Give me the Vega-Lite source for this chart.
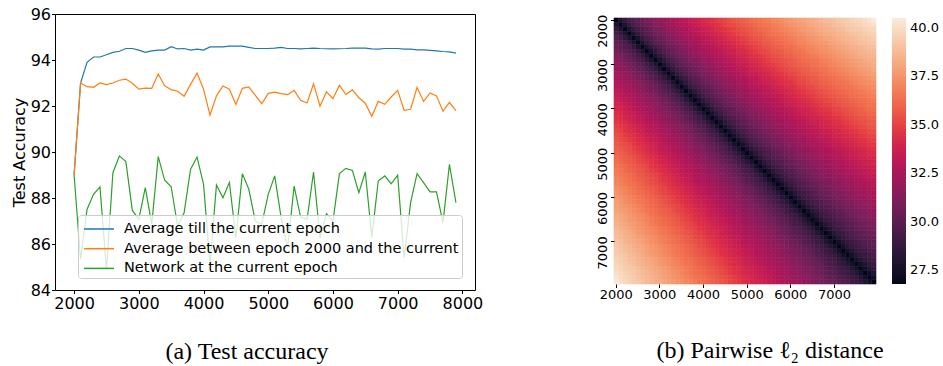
{
  "$schema": "https://vega.github.io/schema/vega-lite/v6.json",
  "background": "white",
  "padding": {"left": 10, "top": 5, "right": 0, "bottom": 0},
  "bounds": "flush",
  "spacing": 139,
  "config": {
    "font": "DejaVu Sans",
    "axis": {"domain": false, "grid": false, "tickColor": "#000", "labelColor": "#000", "titleColor": "#000", "titleFontWeight": "normal"},
    "legend": {"labelColor": "#000"}
  },
  "hconcat": [
    {
      "width": 420,
      "height": 276,
      "view": {"stroke": "#000", "strokeWidth": 1},
      "title": {"text": "(a) Test accuracy", "orient": "bottom", "anchor": "middle", "frame": "group", "font": "Liberation Serif", "fontSize": 24, "fontWeight": "normal", "color": "#000", "offset": 28, "dx": -18},
      "data": {
        "values": "e,s,v\n2000,A,89\n2100,A,93\n2200,A,93.9\n2300,A,94.13\n2400,A,94.13\n2500,A,94.23\n2600,A,94.33\n2700,A,94.38\n2800,A,94.5\n2900,A,94.5\n3000,A,94.43\n3100,A,94.33\n3200,A,94.4\n3300,A,94.43\n3400,A,94.43\n3500,A,94.58\n3600,A,94.48\n3700,A,94.5\n3800,A,94.43\n3900,A,94.47\n4000,A,94.43\n4100,A,94.57\n4200,A,94.57\n4300,A,94.57\n4400,A,94.6\n4500,A,94.6\n4600,A,94.6\n4700,A,94.55\n4800,A,94.5\n4900,A,94.5\n5000,A,94.5\n5100,A,94.52\n5200,A,94.55\n5300,A,94.5\n5400,A,94.5\n5500,A,94.48\n5600,A,94.5\n5700,A,94.52\n5800,A,94.5\n5900,A,94.49\n6000,A,94.48\n6100,A,94.49\n6200,A,94.5\n6300,A,94.52\n6400,A,94.52\n6500,A,94.52\n6600,A,94.48\n6700,A,94.47\n6800,A,94.5\n6900,A,94.5\n7000,A,94.5\n7100,A,94.47\n7200,A,94.47\n7300,A,94.44\n7400,A,94.44\n7500,A,94.42\n7600,A,94.4\n7700,A,94.37\n7800,A,94.35\n7900,A,94.3\n2000,B,89\n2100,B,93\n2200,B,92.84\n2300,B,92.81\n2400,B,93\n2500,B,92.93\n2600,B,93\n2700,B,93.12\n2800,B,93.17\n2900,B,92.99\n3000,B,92.73\n3100,B,92.78\n3200,B,92.77\n3300,B,93.39\n3400,B,92.88\n3500,B,92.71\n3600,B,92.64\n3700,B,92.42\n3800,B,92.94\n3900,B,93.43\n4000,B,92.73\n4100,B,91.6\n4200,B,92.44\n4300,B,92.87\n4400,B,92.73\n4500,B,92.07\n4600,B,92.77\n4700,B,92.83\n4800,B,92.46\n4900,B,92.1\n5000,B,92.55\n5100,B,92.6\n5200,B,92.54\n5300,B,92.5\n5400,B,92.68\n5500,B,92.25\n5600,B,92.13\n5700,B,92.97\n5800,B,91.99\n5900,B,92.62\n6000,B,92.32\n6100,B,92.9\n6200,B,92.5\n6300,B,92.7\n6400,B,92.36\n6500,B,92.12\n6600,B,91.55\n6700,B,92.2\n6800,B,92.07\n6900,B,92.39\n7000,B,92.68\n7100,B,91.81\n7200,B,91.86\n7300,B,92.81\n7400,B,92.2\n7500,B,92.57\n7600,B,92.44\n7700,B,91.77\n7800,B,92.16\n7900,B,91.8\n2000,C,89\n2100,C,85.33\n2200,C,87.5\n2300,C,88.16\n2400,C,88.48\n2500,C,84.9\n2600,C,89.1\n2700,C,89.83\n2800,C,89.58\n2900,C,87.46\n3000,C,87.07\n3100,C,88.45\n3200,C,86.86\n3300,C,89.8\n3400,C,88.77\n3500,C,88.49\n3600,C,86.78\n3700,C,87.36\n3800,C,89.25\n3900,C,89.78\n4000,C,88.6\n4100,C,85.12\n4200,C,88.57\n4300,C,88.01\n4400,C,88.67\n4500,C,86.27\n4600,C,89.06\n4700,C,88.38\n4800,C,87\n4900,C,86.86\n5000,C,88.16\n5100,C,88.96\n5200,C,87.14\n5300,C,85.84\n5400,C,88.52\n5500,C,87.17\n5600,C,87.07\n5700,C,89.13\n5800,C,86.27\n5900,C,87.32\n6000,C,87\n6100,C,89.06\n6200,C,89.29\n6300,C,89.2\n6400,C,88.23\n6500,C,89.13\n6600,C,86.3\n6700,C,88.74\n6800,C,88.96\n6900,C,88.62\n7000,C,88.99\n7100,C,85.4\n7200,C,87.8\n7300,C,89.06\n7400,C,88.67\n7500,C,88.27\n7600,C,88.27\n7700,C,86.93\n7800,C,89.46\n7900,C,87.8",
        "format": {"type": "csv", "parse": {"e": "number", "v": "number"}}
      },
      "mark": {"type": "line", "strokeWidth": 1.2, "clip": true},
      "encoding": {
        "x": {"field": "e", "type": "quantitative", "scale": {"domain": [1705, 8195], "nice": false, "zero": false},
              "axis": {"values": [2000, 3000, 4000, 5000, 6000, 7000, 8000], "format": "d", "title": null, "labelFontSize": 16, "tickSize": 3.5, "labelPadding": 2, "labelFlush": false}},
        "y": {"field": "v", "type": "quantitative", "scale": {"domain": [84, 96], "nice": false, "zero": false},
              "axis": {"values": [84, 86, 88, 90, 92, 94, 96], "title": "Test Accuracy", "titleFontSize": 16, "titlePadding": 3, "labelFontSize": 16, "tickSize": 3.5, "labelPadding": 1}},
        "color": {"field": "s", "type": "nominal",
                  "scale": {"domain": ["A", "B", "C"], "range": ["#1f77b4", "#ff7f0e", "#2ca02c"]},
                  "legend": {"orient": "none", "legendX": 23, "legendY": 201, "title": null, "fillColor": "rgba(255,255,255,0.8)", "strokeColor": "#cccccc", "cornerRadius": 3, "padding": 3,
                             "symbolType": "M-1.5,0H1.5", "symbolSize": 400, "symbolStrokeWidth": 1.5, "symbolOffset": 7, "labelFontSize": 14.5, "labelOffset": 14, "rowPadding": 1.7, "labelLimit": 500, "zindex": 1,
                             "labelExpr": "datum.value == 'A' ? 'Average till the current epoch' : datum.value == 'B' ? 'Average between epoch 2000 and the current' : 'Network at the current epoch'"}}
      }
    },
    {
      "width": 262,
      "height": 270,
      "view": {"stroke": null},
      "title": {"text": "(b) Pairwise ℓ₂ distance", "orient": "bottom", "anchor": "middle", "frame": "group", "font": "Liberation Serif", "fontSize": 24, "fontWeight": "normal", "color": "#000", "offset": 37, "dx": 25},
      "data": {
        "values": "x,y,d\n2000,2000,26.8\n2100,2100,26.8\n2200,2200,26.8\n2300,2300,26.8\n2400,2400,26.8\n2500,2500,26.8\n2600,2600,26.8\n2700,2700,26.8\n2800,2800,26.8\n2900,2900,26.8\n3000,3000,26.8\n3100,3100,26.8\n3200,3200,26.8\n3300,3300,26.8\n3400,3400,26.8\n3500,3500,26.8\n3600,3600,26.8\n3700,3700,26.8\n3800,3800,26.8\n3900,3900,26.8\n4000,4000,26.8\n4100,4100,26.8\n4200,4200,26.8\n4300,4300,26.8\n4400,4400,26.8\n4500,4500,26.8\n4600,4600,26.8\n4700,4700,26.8\n4800,4800,26.8\n4900,4900,26.8\n5000,5000,26.8\n5100,5100,26.8\n5200,5200,26.8\n5300,5300,26.8\n5400,5400,26.8\n5500,5500,26.8\n5600,5600,26.8\n5700,5700,26.8\n5800,5800,26.8\n5900,5900,26.8\n6000,6000,26.8\n6100,6100,26.8\n6200,6200,26.8\n6300,6300,26.8\n6400,6400,26.8\n6500,6500,26.8\n6600,6600,26.8\n6700,6700,26.8\n6800,6800,26.8\n6900,6900,26.8\n7000,7000,26.8\n7100,7100,26.8\n7200,7200,26.8\n7300,7300,26.8\n7400,7400,26.8\n7500,7500,26.8\n7600,7600,26.8\n7700,7700,26.8\n7800,7800,26.8\n7900,7900,26.8\n2000,2100,27.8\n2100,2000,27.8\n2100,2200,27.8\n2200,2100,27.8\n2200,2300,27.8\n2300,2200,27.8\n2300,2400,27.7\n2400,2300,27.7\n2400,2500,27.7\n2500,2400,27.7\n2500,2600,27.7\n2600,2500,27.7\n2600,2700,27.7\n2700,2600,27.7\n2700,2800,27.7\n2800,2700,27.7\n2800,2900,27.7\n2900,2800,27.7\n2900,3000,27.7\n3000,2900,27.7\n3000,3100,27.7\n3100,3000,27.7\n3100,3200,27.7\n3200,3100,27.7\n3200,3300,27.7\n3300,3200,27.7\n3300,3400,27.7\n3400,3300,27.7\n3400,3500,27.7\n3500,3400,27.7\n3500,3600,27.7\n3600,3500,27.7\n3600,3700,27.7\n3700,3600,27.7\n3700,3800,27.6\n3800,3700,27.6\n3800,3900,27.6\n3900,3800,27.6\n3900,4000,27.6\n4000,3900,27.6\n4000,4100,27.6\n4100,4000,27.6\n4100,4200,27.6\n4200,4100,27.6\n4200,4300,27.6\n4300,4200,27.6\n4300,4400,27.6\n4400,4300,27.6\n4400,4500,27.6\n4500,4400,27.6\n4500,4600,27.6\n4600,4500,27.6\n4600,4700,27.6\n4700,4600,27.6\n4700,4800,27.6\n4800,4700,27.6\n4800,4900,27.6\n4900,4800,27.6\n4900,5000,27.6\n5000,4900,27.6\n5000,5100,27.5\n5100,5000,27.5\n5100,5200,27.5\n5200,5100,27.5\n5200,5300,27.5\n5300,5200,27.5\n5300,5400,27.5\n5400,5300,27.5\n5400,5500,27.5\n5500,5400,27.5\n5500,5600,27.5\n5600,5500,27.5\n5600,5700,27.5\n5700,5600,27.5\n5700,5800,27.5\n5800,5700,27.5\n5800,5900,27.5\n5900,5800,27.5\n5900,6000,27.5\n6000,5900,27.5\n6000,6100,27.5\n6100,6000,27.5\n6100,6200,27.5\n6200,6100,27.5\n6200,6300,27.5\n6300,6200,27.5\n6300,6400,27.4\n6400,6300,27.4\n6400,6500,27.4\n6500,6400,27.4\n6500,6600,27.4\n6600,6500,27.4\n6600,6700,27.4\n6700,6600,27.4\n6700,6800,27.4\n6800,6700,27.4\n6800,6900,27.4\n6900,6800,27.4\n6900,7000,27.4\n7000,6900,27.4\n7000,7100,27.4\n7100,7000,27.4\n7100,7200,27.4\n7200,7100,27.4\n7200,7300,27.4\n7300,7200,27.4\n7300,7400,27.4\n7400,7300,27.4\n7400,7500,27.4\n7500,7400,27.4\n7500,7600,27.4\n7600,7500,27.4\n7600,7700,27.4\n7700,7600,27.4\n7700,7800,27.3\n7800,7700,27.3\n7800,7900,27.3\n7900,7800,27.3\n2000,2200,28.6\n2200,2000,28.6\n2100,2300,28.6\n2300,2100,28.6\n2200,2400,28.6\n2400,2200,28.6\n2300,2500,28.6\n2500,2300,28.6\n2400,2600,28.6\n2600,2400,28.6\n2500,2700,28.6\n2700,2500,28.6\n2600,2800,28.6\n2800,2600,28.6\n2700,2900,28.5\n2900,2700,28.5\n2800,3000,28.5\n3000,2800,28.5\n2900,3100,28.5\n3100,2900,28.5\n3000,3200,28.5\n3200,3000,28.5\n3100,3300,28.5\n3300,3100,28.5\n3200,3400,28.5\n3400,3200,28.5\n3300,3500,28.5\n3500,3300,28.5\n3400,3600,28.5\n3600,3400,28.5\n3500,3700,28.5\n3700,3500,28.5\n3600,3800,28.4\n3800,3600,28.4\n3700,3900,28.4\n3900,3700,28.4\n3800,4000,28.4\n4000,3800,28.4\n3900,4100,28.4\n4100,3900,28.4\n4000,4200,28.4\n4200,4000,28.4\n4100,4300,28.4\n4300,4100,28.4\n4200,4400,28.4\n4400,4200,28.4\n4300,4500,28.4\n4500,4300,28.4\n4400,4600,28.4\n4600,4400,28.4\n4500,4700,28.3\n4700,4500,28.3\n4600,4800,28.3\n4800,4600,28.3\n4700,4900,28.3\n4900,4700,28.3\n4800,5000,28.3\n5000,4800,28.3\n4900,5100,28.3\n5100,4900,28.3\n5000,5200,28.3\n5200,5000,28.3\n5100,5300,28.3\n5300,5100,28.3\n5200,5400,28.3\n5400,5200,28.3\n5300,5500,28.3\n5500,5300,28.3\n5400,5600,28.2\n5600,5400,28.2\n5500,5700,28.2\n5700,5500,28.2\n5600,5800,28.2\n5800,5600,28.2\n5700,5900,28.2\n5900,5700,28.2\n5800,6000,28.2\n6000,5800,28.2\n5900,6100,28.2\n6100,5900,28.2\n6000,6200,28.2\n6200,6000,28.2\n6100,6300,28.2\n6300,6100,28.2\n6200,6400,28.2\n6400,6200,28.2\n6300,6500,28.1\n6500,6300,28.1\n6400,6600,28.1\n6600,6400,28.1\n6500,6700,28.1\n6700,6500,28.1\n6600,6800,28.1\n6800,6600,28.1\n6700,6900,28.1\n6900,6700,28.1\n6800,7000,28.1\n7000,6800,28.1\n6900,7100,28.1\n7100,6900,28.1\n7000,7200,28.1\n7200,7000,28.1\n7100,7300,28.1\n7300,7100,28.1\n7200,7400,28\n7400,7200,28\n7300,7500,28\n7500,7300,28\n7400,7600,28\n7600,7400,28\n7500,7700,28\n7700,7500,28\n7600,7800,28\n7800,7600,28\n7700,7900,28\n7900,7700,28\n2000,2300,29.3\n2300,2000,29.3\n2100,2400,29.3\n2400,2100,29.3\n2200,2500,29.3\n2500,2200,29.3\n2300,2600,29.3\n2600,2300,29.3\n2400,2700,29.3\n2700,2400,29.3\n2500,2800,29.3\n2800,2500,29.3\n2600,2900,29.2\n2900,2600,29.2\n2700,3000,29.2\n3000,2700,29.2\n2800,3100,29.2\n3100,2800,29.2\n2900,3200,29.2\n3200,2900,29.2\n3000,3300,29.2\n3300,3000,29.2\n3100,3400,29.2\n3400,3100,29.2\n3200,3500,29.2\n3500,3200,29.2\n3300,3600,29.1\n3600,3300,29.1\n3400,3700,29.1\n3700,3400,29.1\n3500,3800,29.1\n3800,3500,29.1\n3600,3900,29.1\n3900,3600,29.1\n3700,4000,29.1\n4000,3700,29.1\n3800,4100,29.1\n4100,3800,29.1\n3900,4200,29.1\n4200,3900,29.1\n4000,4300,29.1\n4300,4000,29.1\n4100,4400,29\n4400,4100,29\n4200,4500,29\n4500,4200,29\n4300,4600,29\n4600,4300,29\n4400,4700,29\n4700,4400,29\n4500,4800,29\n4800,4500,29\n4600,4900,29\n4900,4600,29\n4700,5000,29\n5000,4700,29\n4800,5100,28.9\n5100,4800,28.9\n4900,5200,28.9\n5200,4900,28.9\n5000,5300,28.9\n5300,5000,28.9\n5100,5400,28.9\n5400,5100,28.9\n5200,5500,28.9\n5500,5200,28.9\n5300,5600,28.9\n5600,5300,28.9\n5400,5700,28.9\n5700,5400,28.9\n5500,5800,28.8\n5800,5500,28.8\n5600,5900,28.8\n5900,5600,28.8\n5700,6000,28.8\n6000,5700,28.8\n5800,6100,28.8\n6100,5800,28.8\n5900,6200,28.8\n6200,5900,28.8\n6000,6300,28.8\n6300,6000,28.8\n6100,6400,28.8\n6400,6100,28.8\n6200,6500,28.7\n6500,6200,28.7\n6300,6600,28.7\n6600,6300,28.7\n6400,6700,28.7\n6700,6400,28.7\n6500,6800,28.7\n6800,6500,28.7\n6600,6900,28.7\n6900,6600,28.7\n6700,7000,28.7\n7000,6700,28.7\n6800,7100,28.7\n7100,6800,28.7\n6900,7200,28.7\n7200,6900,28.7\n7000,7300,28.6\n7300,7000,28.6\n7100,7400,28.6\n7400,7100,28.6\n7200,7500,28.6\n7500,7200,28.6\n7300,7600,28.6\n7600,7300,28.6\n7400,7700,28.6\n7700,7400,28.6\n7500,7800,28.6\n7800,7500,28.6\n7600,7900,28.6\n7900,7600,28.6\n2000,2400,29.8\n2400,2000,29.8\n2100,2500,29.8\n2500,2100,29.8\n2200,2600,29.7\n2600,2200,29.7\n2300,2700,29.7\n2700,2300,29.7\n2400,2800,29.7\n2800,2400,29.7\n2500,2900,29.7\n2900,2500,29.7\n2600,3000,29.7\n3000,2600,29.7\n2700,3100,29.7\n3100,2700,29.7\n2800,3200,29.6\n3200,2800,29.6\n2900,3300,29.6\n3300,2900,29.6\n3000,3400,29.6\n3400,3000,29.6\n3100,3500,29.6\n3500,3100,29.6\n3200,3600,29.6\n3600,3200,29.6\n3300,3700,29.6\n3700,3300,29.6\n3400,3800,29.6\n3800,3400,29.6\n3500,3900,29.5\n3900,3500,29.5\n3600,4000,29.5\n4000,3600,29.5\n3700,4100,29.5\n4100,3700,29.5\n3800,4200,29.5\n4200,3800,29.5\n3900,4300,29.5\n4300,3900,29.5\n4000,4400,29.5\n4400,4000,29.5\n4100,4500,29.4\n4500,4100,29.4\n4200,4600,29.4\n4600,4200,29.4\n4300,4700,29.4\n4700,4300,29.4\n4400,4800,29.4\n4800,4400,29.4\n4500,4900,29.4\n4900,4500,29.4\n4600,5000,29.4\n5000,4600,29.4\n4700,5100,29.3\n5100,4700,29.3\n4800,5200,29.3\n5200,4800,29.3\n4900,5300,29.3\n5300,4900,29.3\n5000,5400,29.3\n5400,5000,29.3\n5100,5500,29.3\n5500,5100,29.3\n5200,5600,29.3\n5600,5200,29.3\n5300,5700,29.2\n5700,5300,29.2\n5400,5800,29.2\n5800,5400,29.2\n5500,5900,29.2\n5900,5500,29.2\n5600,6000,29.2\n6000,5600,29.2\n5700,6100,29.2\n6100,5700,29.2\n5800,6200,29.2\n6200,5800,29.2\n5900,6300,29.1\n6300,5900,29.1\n6000,6400,29.1\n6400,6000,29.1\n6100,6500,29.1\n6500,6100,29.1\n6200,6600,29.1\n6600,6200,29.1\n6300,6700,29.1\n6700,6300,29.1\n6400,6800,29.1\n6800,6400,29.1\n6500,6900,29\n6900,6500,29\n6600,7000,29\n7000,6600,29\n6700,7100,29\n7100,6700,29\n6800,7200,29\n7200,6800,29\n6900,7300,29\n7300,6900,29\n7000,7400,29\n7400,7000,29\n7100,7500,28.9\n7500,7100,28.9\n7200,7600,28.9\n7600,7200,28.9\n7300,7700,28.9\n7700,7300,28.9\n7400,7800,28.9\n7800,7400,28.9\n7500,7900,28.9\n7900,7500,28.9\n2000,2500,30.2\n2500,2000,30.2\n2100,2600,30.2\n2600,2100,30.2\n2200,2700,30.1\n2700,2200,30.1\n2300,2800,30.1\n2800,2300,30.1\n2400,2900,30.1\n2900,2400,30.1\n2500,3000,30.1\n3000,2500,30.1\n2600,3100,30.1\n3100,2600,30.1\n2700,3200,30\n3200,2700,30\n2800,3300,30\n3300,2800,30\n2900,3400,30\n3400,2900,30\n3000,3500,30\n3500,3000,30\n3100,3600,30\n3600,3100,30\n3200,3700,29.9\n3700,3200,29.9\n3300,3800,29.9\n3800,3300,29.9\n3400,3900,29.9\n3900,3400,29.9\n3500,4000,29.9\n4000,3500,29.9\n3600,4100,29.9\n4100,3600,29.9\n3700,4200,29.9\n4200,3700,29.9\n3800,4300,29.8\n4300,3800,29.8\n3900,4400,29.8\n4400,3900,29.8\n4000,4500,29.8\n4500,4000,29.8\n4100,4600,29.8\n4600,4100,29.8\n4200,4700,29.8\n4700,4200,29.8\n4300,4800,29.7\n4800,4300,29.7\n4400,4900,29.7\n4900,4400,29.7\n4500,5000,29.7\n5000,4500,29.7\n4600,5100,29.7\n5100,4600,29.7\n4700,5200,29.7\n5200,4700,29.7\n4800,5300,29.7\n5300,4800,29.7\n4900,5400,29.6\n5400,4900,29.6\n5000,5500,29.6\n5500,5000,29.6\n5100,5600,29.6\n5600,5100,29.6\n5200,5700,29.6\n5700,5200,29.6\n5300,5800,29.6\n5800,5300,29.6\n5400,5900,29.5\n5900,5400,29.5\n5500,6000,29.5\n6000,5500,29.5\n5600,6100,29.5\n6100,5600,29.5\n5700,6200,29.5\n6200,5700,29.5\n5800,6300,29.5\n6300,5800,29.5\n5900,6400,29.4\n6400,5900,29.4\n6000,6500,29.4\n6500,6000,29.4\n6100,6600,29.4\n6600,6100,29.4\n6200,6700,29.4\n6700,6200,29.4\n6300,6800,29.4\n6800,6300,29.4\n6400,6900,29.4\n6900,6400,29.4\n6500,7000,29.3\n7000,6500,29.3\n6600,7100,29.3\n7100,6600,29.3\n6700,7200,29.3\n7200,6700,29.3\n6800,7300,29.3\n7300,6800,29.3\n6900,7400,29.3\n7400,6900,29.3\n7000,7500,29.2\n7500,7000,29.2\n7100,7600,29.2\n7600,7100,29.2\n7200,7700,29.2\n7700,7200,29.2\n7300,7800,29.2\n7800,7300,29.2\n7400,7900,29.2\n7900,7400,29.2\n2000,2600,30.5\n2600,2000,30.5\n2100,2700,30.5\n2700,2100,30.5\n2200,2800,30.5\n2800,2200,30.5\n2300,2900,30.5\n2900,2300,30.5\n2400,3000,30.5\n3000,2400,30.5\n2500,3100,30.4\n3100,2500,30.4\n2600,3200,30.4\n3200,2600,30.4\n2700,3300,30.4\n3300,2700,30.4\n2800,3400,30.4\n3400,2800,30.4\n2900,3500,30.4\n3500,2900,30.4\n3000,3600,30.3\n3600,3000,30.3\n3100,3700,30.3\n3700,3100,30.3\n3200,3800,30.3\n3800,3200,30.3\n3300,3900,30.3\n3900,3300,30.3\n3400,4000,30.3\n4000,3400,30.3\n3500,4100,30.2\n4100,3500,30.2\n3600,4200,30.2\n4200,3600,30.2\n3700,4300,30.2\n4300,3700,30.2\n3800,4400,30.2\n4400,3800,30.2\n3900,4500,30.2\n4500,3900,30.2\n4000,4600,30.1\n4600,4000,30.1\n4100,4700,30.1\n4700,4100,30.1\n4200,4800,30.1\n4800,4200,30.1\n4300,4900,30.1\n4900,4300,30.1\n4400,5000,30\n5000,4400,30\n4500,5100,30\n5100,4500,30\n4600,5200,30\n5200,4600,30\n4700,5300,30\n5300,4700,30\n4800,5400,30\n5400,4800,30\n4900,5500,29.9\n5500,4900,29.9\n5000,5600,29.9\n5600,5000,29.9\n5100,5700,29.9\n5700,5100,29.9\n5200,5800,29.9\n5800,5200,29.9\n5300,5900,29.9\n5900,5300,29.9\n5400,6000,29.8\n6000,5400,29.8\n5500,6100,29.8\n6100,5500,29.8\n5600,6200,29.8\n6200,5600,29.8\n5700,6300,29.8\n6300,5700,29.8\n5800,6400,29.8\n6400,5800,29.8\n5900,6500,29.7\n6500,5900,29.7\n6000,6600,29.7\n6600,6000,29.7\n6100,6700,29.7\n6700,6100,29.7\n6200,6800,29.7\n6800,6200,29.7\n6300,6900,29.7\n6900,6300,29.7\n6400,7000,29.6\n7000,6400,29.6\n6500,7100,29.6\n7100,6500,29.6\n6600,7200,29.6\n7200,6600,29.6\n6700,7300,29.6\n7300,6700,29.6\n6800,7400,29.6\n7400,6800,29.6\n6900,7500,29.5\n7500,6900,29.5\n7000,7600,29.5\n7600,7000,29.5\n7100,7700,29.5\n7700,7100,29.5\n7200,7800,29.5\n7800,7200,29.5\n7300,7900,29.5\n7900,7300,29.5\n2000,2700,30.9\n2700,2000,30.9\n2100,2800,30.8\n2800,2100,30.8\n2200,2900,30.8\n2900,2200,30.8\n2300,3000,30.8\n3000,2300,30.8\n2400,3100,30.8\n3100,2400,30.8\n2500,3200,30.8\n3200,2500,30.8\n2600,3300,30.7\n3300,2600,30.7\n2700,3400,30.7\n3400,2700,30.7\n2800,3500,30.7\n3500,2800,30.7\n2900,3600,30.7\n3600,2900,30.7\n3000,3700,30.6\n3700,3000,30.6\n3100,3800,30.6\n3800,3100,30.6\n3200,3900,30.6\n3900,3200,30.6\n3300,4000,30.6\n4000,3300,30.6\n3400,4100,30.6\n4100,3400,30.6\n3500,4200,30.5\n4200,3500,30.5\n3600,4300,30.5\n4300,3600,30.5\n3700,4400,30.5\n4400,3700,30.5\n3800,4500,30.5\n4500,3800,30.5\n3900,4600,30.4\n4600,3900,30.4\n4000,4700,30.4\n4700,4000,30.4\n4100,4800,30.4\n4800,4100,30.4\n4200,4900,30.4\n4900,4200,30.4\n4300,5000,30.4\n5000,4300,30.4\n4400,5100,30.3\n5100,4400,30.3\n4500,5200,30.3\n5200,4500,30.3\n4600,5300,30.3\n5300,4600,30.3\n4700,5400,30.3\n5400,4700,30.3\n4800,5500,30.2\n5500,4800,30.2\n4900,5600,30.2\n5600,4900,30.2\n5000,5700,30.2\n5700,5000,30.2\n5100,5800,30.2\n5800,5100,30.2\n5200,5900,30.2\n5900,5200,30.2\n5300,6000,30.1\n6000,5300,30.1\n5400,6100,30.1\n6100,5400,30.1\n5500,6200,30.1\n6200,5500,30.1\n5600,6300,30.1\n6300,5600,30.1\n5700,6400,30\n6400,5700,30\n5800,6500,30\n6500,5800,30\n5900,6600,30\n6600,5900,30\n6000,6700,30\n6700,6000,30\n6100,6800,30\n6800,6100,30\n6200,6900,29.9\n6900,6200,29.9\n6300,7000,29.9\n7000,6300,29.9\n6400,7100,29.9\n7100,6400,29.9\n6500,7200,29.9\n7200,6500,29.9\n6600,7300,29.8\n7300,6600,29.8\n6700,7400,29.8\n7400,6700,29.8\n6800,7500,29.8\n7500,6800,29.8\n6900,7600,29.8\n7600,6900,29.8\n7000,7700,29.8\n7700,7000,29.8\n7100,7800,29.7\n7800,7100,29.7\n7200,7900,29.7\n7900,7200,29.7\n2000,2800,31.2\n2800,2000,31.2\n2100,2900,31.2\n2900,2100,31.2\n2200,3000,31.1\n3000,2200,31.1\n2300,3100,31.1\n3100,2300,31.1\n2400,3200,31.1\n3200,2400,31.1\n2500,3300,31.1\n3300,2500,31.1\n2600,3400,31\n3400,2600,31\n2700,3500,31\n3500,2700,31\n2800,3600,31\n3600,2800,31\n2900,3700,31\n3700,2900,31\n3000,3800,30.9\n3800,3000,30.9\n3100,3900,30.9\n3900,3100,30.9\n3200,4000,30.9\n4000,3200,30.9\n3300,4100,30.9\n4100,3300,30.9\n3400,4200,30.9\n4200,3400,30.9\n3500,4300,30.8\n4300,3500,30.8\n3600,4400,30.8\n4400,3600,30.8\n3700,4500,30.8\n4500,3700,30.8\n3800,4600,30.8\n4600,3800,30.8\n3900,4700,30.7\n4700,3900,30.7\n4000,4800,30.7\n4800,4000,30.7\n4100,4900,30.7\n4900,4100,30.7\n4200,5000,30.7\n5000,4200,30.7\n4300,5100,30.6\n5100,4300,30.6\n4400,5200,30.6\n5200,4400,30.6\n4500,5300,30.6\n5300,4500,30.6\n4600,5400,30.6\n5400,4600,30.6\n4700,5500,30.5\n5500,4700,30.5\n4800,5600,30.5\n5600,4800,30.5\n4900,5700,30.5\n5700,4900,30.5\n5000,5800,30.5\n5800,5000,30.5\n5100,5900,30.4\n5900,5100,30.4\n5200,6000,30.4\n6000,5200,30.4\n5300,6100,30.4\n6100,5300,30.4\n5400,6200,30.4\n6200,5400,30.4\n5500,6300,30.3\n6300,5500,30.3\n5600,6400,30.3\n6400,5600,30.3\n5700,6500,30.3\n6500,5700,30.3\n5800,6600,30.3\n6600,5800,30.3\n5900,6700,30.3\n6700,5900,30.3\n6000,6800,30.2\n6800,6000,30.2\n6100,6900,30.2\n6900,6100,30.2\n6200,7000,30.2\n7000,6200,30.2\n6300,7100,30.2\n7100,6300,30.2\n6400,7200,30.1\n7200,6400,30.1\n6500,7300,30.1\n7300,6500,30.1\n6600,7400,30.1\n7400,6600,30.1\n6700,7500,30.1\n7500,6700,30.1\n6800,7600,30\n7600,6800,30\n6900,7700,30\n7700,6900,30\n7000,7800,30\n7800,7000,30\n7100,7900,30\n7900,7100,30\n2000,2900,31.5\n2900,2000,31.5\n2100,3000,31.5\n3000,2100,31.5\n2200,3100,31.4\n3100,2200,31.4\n2300,3200,31.4\n3200,2300,31.4\n2400,3300,31.4\n3300,2400,31.4\n2500,3400,31.4\n3400,2500,31.4\n2600,3500,31.3\n3500,2600,31.3\n2700,3600,31.3\n3600,2700,31.3\n2800,3700,31.3\n3700,2800,31.3\n2900,3800,31.3\n3800,2900,31.3\n3000,3900,31.2\n3900,3000,31.2\n3100,4000,31.2\n4000,3100,31.2\n3200,4100,31.2\n4100,3200,31.2\n3300,4200,31.2\n4200,3300,31.2\n3400,4300,31.1\n4300,3400,31.1\n3500,4400,31.1\n4400,3500,31.1\n3600,4500,31.1\n4500,3600,31.1\n3700,4600,31.1\n4600,3700,31.1\n3800,4700,31\n4700,3800,31\n3900,4800,31\n4800,3900,31\n4000,4900,31\n4900,4000,31\n4100,5000,31\n5000,4100,31\n4200,5100,30.9\n5100,4200,30.9\n4300,5200,30.9\n5200,4300,30.9\n4400,5300,30.9\n5300,4400,30.9\n4500,5400,30.8\n5400,4500,30.8\n4600,5500,30.8\n5500,4600,30.8\n4700,5600,30.8\n5600,4700,30.8\n4800,5700,30.8\n5700,4800,30.8\n4900,5800,30.7\n5800,4900,30.7\n5000,5900,30.7\n5900,5000,30.7\n5100,6000,30.7\n6000,5100,30.7\n5200,6100,30.7\n6100,5200,30.7\n5300,6200,30.6\n6200,5300,30.6\n5400,6300,30.6\n6300,5400,30.6\n5500,6400,30.6\n6400,5500,30.6\n5600,6500,30.6\n6500,5600,30.6\n5700,6600,30.5\n6600,5700,30.5\n5800,6700,30.5\n6700,5800,30.5\n5900,6800,30.5\n6800,5900,30.5\n6000,6900,30.5\n6900,6000,30.5\n6100,7000,30.4\n7000,6100,30.4\n6200,7100,30.4\n7100,6200,30.4\n6300,7200,30.4\n7200,6300,30.4\n6400,7300,30.4\n7300,6400,30.4\n6500,7400,30.3\n7400,6500,30.3\n6600,7500,30.3\n7500,6600,30.3\n6700,7600,30.3\n7600,6700,30.3\n6800,7700,30.3\n7700,6800,30.3\n6900,7800,30.2\n7800,6900,30.2\n7000,7900,30.2\n7900,7000,30.2\n2000,3000,31.8\n3000,2000,31.8\n2100,3100,31.7\n3100,2100,31.7\n2200,3200,31.7\n3200,2200,31.7\n2300,3300,31.7\n3300,2300,31.7\n2400,3400,31.7\n3400,2400,31.7\n2500,3500,31.6\n3500,2500,31.6\n2600,3600,31.6\n3600,2600,31.6\n2700,3700,31.6\n3700,2700,31.6\n2800,3800,31.6\n3800,2800,31.6\n2900,3900,31.5\n3900,2900,31.5\n3000,4000,31.5\n4000,3000,31.5\n3100,4100,31.5\n4100,3100,31.5\n3200,4200,31.4\n4200,3200,31.4\n3300,4300,31.4\n4300,3300,31.4\n3400,4400,31.4\n4400,3400,31.4\n3500,4500,31.4\n4500,3500,31.4\n3600,4600,31.3\n4600,3600,31.3\n3700,4700,31.3\n4700,3700,31.3\n3800,4800,31.3\n4800,3800,31.3\n3900,4900,31.3\n4900,3900,31.3\n4000,5000,31.2\n5000,4000,31.2\n4100,5100,31.2\n5100,4100,31.2\n4200,5200,31.2\n5200,4200,31.2\n4300,5300,31.1\n5300,4300,31.1\n4400,5400,31.1\n5400,4400,31.1\n4500,5500,31.1\n5500,4500,31.1\n4600,5600,31.1\n5600,4600,31.1\n4700,5700,31\n5700,4700,31\n4800,5800,31\n5800,4800,31\n4900,5900,31\n5900,4900,31\n5000,6000,31\n6000,5000,31\n5100,6100,30.9\n6100,5100,30.9\n5200,6200,30.9\n6200,5200,30.9\n5300,6300,30.9\n6300,5300,30.9\n5400,6400,30.8\n6400,5400,30.8\n5500,6500,30.8\n6500,5500,30.8\n5600,6600,30.8\n6600,5600,30.8\n5700,6700,30.8\n6700,5700,30.8\n5800,6800,30.7\n6800,5800,30.7\n5900,6900,30.7\n6900,5900,30.7\n6000,7000,30.7\n7000,6000,30.7\n6100,7100,30.7\n7100,6100,30.7\n6200,7200,30.6\n7200,6200,30.6\n6300,7300,30.6\n7300,6300,30.6\n6400,7400,30.6\n7400,6400,30.6\n6500,7500,30.5\n7500,6500,30.5\n6600,7600,30.5\n7600,6600,30.5\n6700,7700,30.5\n7700,6700,30.5\n6800,7800,30.5\n7800,6800,30.5\n6900,7900,30.4\n7900,6900,30.4\n2000,3100,32\n3100,2000,32\n2100,3200,32\n3200,2100,32\n2200,3300,32\n3300,2200,32\n2300,3400,32\n3400,2300,32\n2400,3500,31.9\n3500,2400,31.9\n2500,3600,31.9\n3600,2500,31.9\n2600,3700,31.9\n3700,2600,31.9\n2700,3800,31.8\n3800,2700,31.8\n2800,3900,31.8\n3900,2800,31.8\n2900,4000,31.8\n4000,2900,31.8\n3000,4100,31.8\n4100,3000,31.8\n3100,4200,31.7\n4200,3100,31.7\n3200,4300,31.7\n4300,3200,31.7\n3300,4400,31.7\n4400,3300,31.7\n3400,4500,31.6\n4500,3400,31.6\n3500,4600,31.6\n4600,3500,31.6\n3600,4700,31.6\n4700,3600,31.6\n3700,4800,31.6\n4800,3700,31.6\n3800,4900,31.5\n4900,3800,31.5\n3900,5000,31.5\n5000,3900,31.5\n4000,5100,31.5\n5100,4000,31.5\n4100,5200,31.4\n5200,4100,31.4\n4200,5300,31.4\n5300,4200,31.4\n4300,5400,31.4\n5400,4300,31.4\n4400,5500,31.4\n5500,4400,31.4\n4500,5600,31.3\n5600,4500,31.3\n4600,5700,31.3\n5700,4600,31.3\n4700,5800,31.3\n5800,4700,31.3\n4800,5900,31.2\n5900,4800,31.2\n4900,6000,31.2\n6000,4900,31.2\n5000,6100,31.2\n6100,5000,31.2\n5100,6200,31.2\n6200,5100,31.2\n5200,6300,31.1\n6300,5200,31.1\n5300,6400,31.1\n6400,5300,31.1\n5400,6500,31.1\n6500,5400,31.1\n5500,6600,31\n6600,5500,31\n5600,6700,31\n6700,5600,31\n5700,6800,31\n6800,5700,31\n5800,6900,31\n6900,5800,31\n5900,7000,30.9\n7000,5900,30.9\n6000,7100,30.9\n7100,6000,30.9\n6100,7200,30.9\n7200,6100,30.9\n6200,7300,30.8\n7300,6200,30.8\n6300,7400,30.8\n7400,6300,30.8\n6400,7500,30.8\n7500,6400,30.8\n6500,7600,30.8\n7600,6500,30.8\n6600,7700,30.7\n7700,6600,30.7\n6700,7800,30.7\n7800,6700,30.7\n6800,7900,30.7\n7900,6800,30.7\n2000,3200,32.3\n3200,2000,32.3\n2100,3300,32.3\n3300,2100,32.3\n2200,3400,32.2\n3400,2200,32.2\n2300,3500,32.2\n3500,2300,32.2\n2400,3600,32.2\n3600,2400,32.2\n2500,3700,32.2\n3700,2500,32.2\n2600,3800,32.1\n3800,2600,32.1\n2700,3900,32.1\n3900,2700,32.1\n2800,4000,32.1\n4000,2800,32.1\n2900,4100,32\n4100,2900,32\n3000,4200,32\n4200,3000,32\n3100,4300,32\n4300,3100,32\n3200,4400,31.9\n4400,3200,31.9\n3300,4500,31.9\n4500,3300,31.9\n3400,4600,31.9\n4600,3400,31.9\n3500,4700,31.9\n4700,3500,31.9\n3600,4800,31.8\n4800,3600,31.8\n3700,4900,31.8\n4900,3700,31.8\n3800,5000,31.8\n5000,3800,31.8\n3900,5100,31.7\n5100,3900,31.7\n4000,5200,31.7\n5200,4000,31.7\n4100,5300,31.7\n5300,4100,31.7\n4200,5400,31.6\n5400,4200,31.6\n4300,5500,31.6\n5500,4300,31.6\n4400,5600,31.6\n5600,4400,31.6\n4500,5700,31.6\n5700,4500,31.6\n4600,5800,31.5\n5800,4600,31.5\n4700,5900,31.5\n5900,4700,31.5\n4800,6000,31.5\n6000,4800,31.5\n4900,6100,31.4\n6100,4900,31.4\n5000,6200,31.4\n6200,5000,31.4\n5100,6300,31.4\n6300,5100,31.4\n5200,6400,31.3\n6400,5200,31.3\n5300,6500,31.3\n6500,5300,31.3\n5400,6600,31.3\n6600,5400,31.3\n5500,6700,31.3\n6700,5500,31.3\n5600,6800,31.2\n6800,5600,31.2\n5700,6900,31.2\n6900,5700,31.2\n5800,7000,31.2\n7000,5800,31.2\n5900,7100,31.1\n7100,5900,31.1\n6000,7200,31.1\n7200,6000,31.1\n6100,7300,31.1\n7300,6100,31.1\n6200,7400,31\n7400,6200,31\n6300,7500,31\n7500,6300,31\n6400,7600,31\n7600,6400,31\n6500,7700,31\n7700,6500,31\n6600,7800,30.9\n7800,6600,30.9\n6700,7900,30.9\n7900,6700,30.9\n2000,3300,32.6\n3300,2000,32.6\n2100,3400,32.5\n3400,2100,32.5\n2200,3500,32.5\n3500,2200,32.5\n2300,3600,32.5\n3600,2300,32.5\n2400,3700,32.4\n3700,2400,32.4\n2500,3800,32.4\n3800,2500,32.4\n2600,3900,32.4\n3900,2600,32.4\n2700,4000,32.3\n4000,2700,32.3\n2800,4100,32.3\n4100,2800,32.3\n2900,4200,32.3\n4200,2900,32.3\n3000,4300,32.2\n4300,3000,32.2\n3100,4400,32.2\n4400,3100,32.2\n3200,4500,32.2\n4500,3200,32.2\n3300,4600,32.1\n4600,3300,32.1\n3400,4700,32.1\n4700,3400,32.1\n3500,4800,32.1\n4800,3500,32.1\n3600,4900,32.1\n4900,3600,32.1\n3700,5000,32\n5000,3700,32\n3800,5100,32\n5100,3800,32\n3900,5200,32\n5200,3900,32\n4000,5300,31.9\n5300,4000,31.9\n4100,5400,31.9\n5400,4100,31.9\n4200,5500,31.9\n5500,4200,31.9\n4300,5600,31.8\n5600,4300,31.8\n4400,5700,31.8\n5700,4400,31.8\n4500,5800,31.8\n5800,4500,31.8\n4600,5900,31.7\n5900,4600,31.7\n4700,6000,31.7\n6000,4700,31.7\n4800,6100,31.7\n6100,4800,31.7\n4900,6200,31.6\n6200,4900,31.6\n5000,6300,31.6\n6300,5000,31.6\n5100,6400,31.6\n6400,5100,31.6\n5200,6500,31.6\n6500,5200,31.6\n5300,6600,31.5\n6600,5300,31.5\n5400,6700,31.5\n6700,5400,31.5\n5500,6800,31.5\n6800,5500,31.5\n5600,6900,31.4\n6900,5600,31.4\n5700,7000,31.4\n7000,5700,31.4\n5800,7100,31.4\n7100,5800,31.4\n5900,7200,31.3\n7200,5900,31.3\n6000,7300,31.3\n7300,6000,31.3\n6100,7400,31.3\n7400,6100,31.3\n6200,7500,31.2\n7500,6200,31.2\n6300,7600,31.2\n7600,6300,31.2\n6400,7700,31.2\n7700,6400,31.2\n6500,7800,31.1\n7800,6500,31.1\n6600,7900,31.1\n7900,6600,31.1\n2000,3400,32.8\n3400,2000,32.8\n2100,3500,32.8\n3500,2100,32.8\n2200,3600,32.7\n3600,2200,32.7\n2300,3700,32.7\n3700,2300,32.7\n2400,3800,32.7\n3800,2400,32.7\n2500,3900,32.6\n3900,2500,32.6\n2600,4000,32.6\n4000,2600,32.6\n2700,4100,32.6\n4100,2700,32.6\n2800,4200,32.5\n4200,2800,32.5\n2900,4300,32.5\n4300,2900,32.5\n3000,4400,32.5\n4400,3000,32.5\n3100,4500,32.4\n4500,3100,32.4\n3200,4600,32.4\n4600,3200,32.4\n3300,4700,32.4\n4700,3300,32.4\n3400,4800,32.3\n4800,3400,32.3\n3500,4900,32.3\n4900,3500,32.3\n3600,5000,32.3\n5000,3600,32.3\n3700,5100,32.3\n5100,3700,32.3\n3800,5200,32.2\n5200,3800,32.2\n3900,5300,32.2\n5300,3900,32.2\n4000,5400,32.2\n5400,4000,32.2\n4100,5500,32.1\n5500,4100,32.1\n4200,5600,32.1\n5600,4200,32.1\n4300,5700,32.1\n5700,4300,32.1\n4400,5800,32\n5800,4400,32\n4500,5900,32\n5900,4500,32\n4600,6000,32\n6000,4600,32\n4700,6100,31.9\n6100,4700,31.9\n4800,6200,31.9\n6200,4800,31.9\n4900,6300,31.9\n6300,4900,31.9\n5000,6400,31.8\n6400,5000,31.8\n5100,6500,31.8\n6500,5100,31.8\n5200,6600,31.8\n6600,5200,31.8\n5300,6700,31.7\n6700,5300,31.7\n5400,6800,31.7\n6800,5400,31.7\n5500,6900,31.7\n6900,5500,31.7\n5600,7000,31.6\n7000,5600,31.6\n5700,7100,31.6\n7100,5700,31.6\n5800,7200,31.6\n7200,5800,31.6\n5900,7300,31.5\n7300,5900,31.5\n6000,7400,31.5\n7400,6000,31.5\n6100,7500,31.5\n7500,6100,31.5\n6200,7600,31.4\n7600,6200,31.4\n6300,7700,31.4\n7700,6300,31.4\n6400,7800,31.4\n7800,6400,31.4\n6500,7900,31.3\n7900,6500,31.3\n2000,3500,33\n3500,2000,33\n2100,3600,33\n3600,2100,33\n2200,3700,33\n3700,2200,33\n2300,3800,32.9\n3800,2300,32.9\n2400,3900,32.9\n3900,2400,32.9\n2500,4000,32.9\n4000,2500,32.9\n2600,4100,32.8\n4100,2600,32.8\n2700,4200,32.8\n4200,2700,32.8\n2800,4300,32.8\n4300,2800,32.8\n2900,4400,32.7\n4400,2900,32.7\n3000,4500,32.7\n4500,3000,32.7\n3100,4600,32.7\n4600,3100,32.7\n3200,4700,32.6\n4700,3200,32.6\n3300,4800,32.6\n4800,3300,32.6\n3400,4900,32.6\n4900,3400,32.6\n3500,5000,32.5\n5000,3500,32.5\n3600,5100,32.5\n5100,3600,32.5\n3700,5200,32.5\n5200,3700,32.5\n3800,5300,32.4\n5300,3800,32.4\n3900,5400,32.4\n5400,3900,32.4\n4000,5500,32.4\n5500,4000,32.4\n4100,5600,32.3\n5600,4100,32.3\n4200,5700,32.3\n5700,4200,32.3\n4300,5800,32.3\n5800,4300,32.3\n4400,5900,32.2\n5900,4400,32.2\n4500,6000,32.2\n6000,4500,32.2\n4600,6100,32.2\n6100,4600,32.2\n4700,6200,32.1\n6200,4700,32.1\n4800,6300,32.1\n6300,4800,32.1\n4900,6400,32\n6400,4900,32\n5000,6500,32\n6500,5000,32\n5100,6600,32\n6600,5100,32\n5200,6700,31.9\n6700,5200,31.9\n5300,6800,31.9\n6800,5300,31.9\n5400,6900,31.9\n6900,5400,31.9\n5500,7000,31.8\n7000,5500,31.8\n5600,7100,31.8\n7100,5600,31.8\n5700,7200,31.8\n7200,5700,31.8\n5800,7300,31.7\n7300,5800,31.7\n5900,7400,31.7\n7400,5900,31.7\n6000,7500,31.7\n7500,6000,31.7\n6100,7600,31.6\n7600,6100,31.6\n6200,7700,31.6\n7700,6200,31.6\n6300,7800,31.6\n7800,6300,31.6\n6400,7900,31.5\n7900,6400,31.5\n2000,3600,33.3\n3600,2000,33.3\n2100,3700,33.2\n3700,2100,33.2\n2200,3800,33.2\n3800,2200,33.2\n2300,3900,33.2\n3900,2300,33.2\n2400,4000,33.1\n4000,2400,33.1\n2500,4100,33.1\n4100,2500,33.1\n2600,4200,33.1\n4200,2600,33.1\n2700,4300,33\n4300,2700,33\n2800,4400,33\n4400,2800,33\n2900,4500,33\n4500,2900,33\n3000,4600,32.9\n4600,3000,32.9\n3100,4700,32.9\n4700,3100,32.9\n3200,4800,32.8\n4800,3200,32.8\n3300,4900,32.8\n4900,3300,32.8\n3400,5000,32.8\n5000,3400,32.8\n3500,5100,32.7\n5100,3500,32.7\n3600,5200,32.7\n5200,3600,32.7\n3700,5300,32.7\n5300,3700,32.7\n3800,5400,32.6\n5400,3800,32.6\n3900,5500,32.6\n5500,3900,32.6\n4000,5600,32.6\n5600,4000,32.6\n4100,5700,32.5\n5700,4100,32.5\n4200,5800,32.5\n5800,4200,32.5\n4300,5900,32.5\n5900,4300,32.5\n4400,6000,32.4\n6000,4400,32.4\n4500,6100,32.4\n6100,4500,32.4\n4600,6200,32.3\n6200,4600,32.3\n4700,6300,32.3\n6300,4700,32.3\n4800,6400,32.3\n6400,4800,32.3\n4900,6500,32.2\n6500,4900,32.2\n5000,6600,32.2\n6600,5000,32.2\n5100,6700,32.2\n6700,5100,32.2\n5200,6800,32.1\n6800,5200,32.1\n5300,6900,32.1\n6900,5300,32.1\n5400,7000,32.1\n7000,5400,32.1\n5500,7100,32\n7100,5500,32\n5600,7200,32\n7200,5600,32\n5700,7300,32\n7300,5700,32\n5800,7400,31.9\n7400,5800,31.9\n5900,7500,31.9\n7500,5900,31.9\n6000,7600,31.9\n7600,6000,31.9\n6100,7700,31.8\n7700,6100,31.8\n6200,7800,31.8\n7800,6200,31.8\n6300,7900,31.7\n7900,6300,31.7\n2000,3700,33.5\n3700,2000,33.5\n2100,3800,33.5\n3800,2100,33.5\n2200,3900,33.4\n3900,2200,33.4\n2300,4000,33.4\n4000,2300,33.4\n2400,4100,33.4\n4100,2400,33.4\n2500,4200,33.3\n4200,2500,33.3\n2600,4300,33.3\n4300,2600,33.3\n2700,4400,33.2\n4400,2700,33.2\n2800,4500,33.2\n4500,2800,33.2\n2900,4600,33.2\n4600,2900,33.2\n3000,4700,33.1\n4700,3000,33.1\n3100,4800,33.1\n4800,3100,33.1\n3200,4900,33.1\n4900,3200,33.1\n3300,5000,33\n5000,3300,33\n3400,5100,33\n5100,3400,33\n3500,5200,33\n5200,3500,33\n3600,5300,32.9\n5300,3600,32.9\n3700,5400,32.9\n5400,3700,32.9\n3800,5500,32.8\n5500,3800,32.8\n3900,5600,32.8\n5600,3900,32.8\n4000,5700,32.8\n5700,4000,32.8\n4100,5800,32.7\n5800,4100,32.7\n4200,5900,32.7\n5900,4200,32.7\n4300,6000,32.7\n6000,4300,32.7\n4400,6100,32.6\n6100,4400,32.6\n4500,6200,32.6\n6200,4500,32.6\n4600,6300,32.5\n6300,4600,32.5\n4700,6400,32.5\n6400,4700,32.5\n4800,6500,32.5\n6500,4800,32.5\n4900,6600,32.4\n6600,4900,32.4\n5000,6700,32.4\n6700,5000,32.4\n5100,6800,32.4\n6800,5100,32.4\n5200,6900,32.3\n6900,5200,32.3\n5300,7000,32.3\n7000,5300,32.3\n5400,7100,32.3\n7100,5400,32.3\n5500,7200,32.2\n7200,5500,32.2\n5600,7300,32.2\n7300,5600,32.2\n5700,7400,32.1\n7400,5700,32.1\n5800,7500,32.1\n7500,5800,32.1\n5900,7600,32.1\n7600,5900,32.1\n6000,7700,32\n7700,6000,32\n6100,7800,32\n7800,6100,32\n6200,7900,32\n7900,6200,32\n2000,3800,33.7\n3800,2000,33.7\n2100,3900,33.7\n3900,2100,33.7\n2200,4000,33.6\n4000,2200,33.6\n2300,4100,33.6\n4100,2300,33.6\n2400,4200,33.6\n4200,2400,33.6\n2500,4300,33.5\n4300,2500,33.5\n2600,4400,33.5\n4400,2600,33.5\n2700,4500,33.4\n4500,2700,33.4\n2800,4600,33.4\n4600,2800,33.4\n2900,4700,33.4\n4700,2900,33.4\n3000,4800,33.3\n4800,3000,33.3\n3100,4900,33.3\n4900,3100,33.3\n3200,5000,33.3\n5000,3200,33.3\n3300,5100,33.2\n5100,3300,33.2\n3400,5200,33.2\n5200,3400,33.2\n3500,5300,33.1\n5300,3500,33.1\n3600,5400,33.1\n5400,3600,33.1\n3700,5500,33.1\n5500,3700,33.1\n3800,5600,33\n5600,3800,33\n3900,5700,33\n5700,3900,33\n4000,5800,33\n5800,4000,33\n4100,5900,32.9\n5900,4100,32.9\n4200,6000,32.9\n6000,4200,32.9\n4300,6100,32.8\n6100,4300,32.8\n4400,6200,32.8\n6200,4400,32.8\n4500,6300,32.8\n6300,4500,32.8\n4600,6400,32.7\n6400,4600,32.7\n4700,6500,32.7\n6500,4700,32.7\n4800,6600,32.7\n6600,4800,32.7\n4900,6700,32.6\n6700,4900,32.6\n5000,6800,32.6\n6800,5000,32.6\n5100,6900,32.5\n6900,5100,32.5\n5200,7000,32.5\n7000,5200,32.5\n5300,7100,32.5\n7100,5300,32.5\n5400,7200,32.4\n7200,5400,32.4\n5500,7300,32.4\n7300,5500,32.4\n5600,7400,32.3\n7400,5600,32.3\n5700,7500,32.3\n7500,5700,32.3\n5800,7600,32.3\n7600,5800,32.3\n5900,7700,32.2\n7700,5900,32.2\n6000,7800,32.2\n7800,6000,32.2\n6100,7900,32.2\n7900,6100,32.2\n2000,3900,33.9\n3900,2000,33.9\n2100,4000,33.9\n4000,2100,33.9\n2200,4100,33.8\n4100,2200,33.8\n2300,4200,33.8\n4200,2300,33.8\n2400,4300,33.8\n4300,2400,33.8\n2500,4400,33.7\n4400,2500,33.7\n2600,4500,33.7\n4500,2600,33.7\n2700,4600,33.6\n4600,2700,33.6\n2800,4700,33.6\n4700,2800,33.6\n2900,4800,33.6\n4800,2900,33.6\n3000,4900,33.5\n4900,3000,33.5\n3100,5000,33.5\n5000,3100,33.5\n3200,5100,33.5\n5100,3200,33.5\n3300,5200,33.4\n5200,3300,33.4\n3400,5300,33.4\n5300,3400,33.4\n3500,5400,33.3\n5400,3500,33.3\n3600,5500,33.3\n5500,3600,33.3\n3700,5600,33.3\n5600,3700,33.3\n3800,5700,33.2\n5700,3800,33.2\n3900,5800,33.2\n5800,3900,33.2\n4000,5900,33.1\n5900,4000,33.1\n4100,6000,33.1\n6000,4100,33.1\n4200,6100,33.1\n6100,4200,33.1\n4300,6200,33\n6200,4300,33\n4400,6300,33\n6300,4400,33\n4500,6400,32.9\n6400,4500,32.9\n4600,6500,32.9\n6500,4600,32.9\n4700,6600,32.9\n6600,4700,32.9\n4800,6700,32.8\n6700,4800,32.8\n4900,6800,32.8\n6800,4900,32.8\n5000,6900,32.8\n6900,5000,32.8\n5100,7000,32.7\n7000,5100,32.7\n5200,7100,32.7\n7100,5200,32.7\n5300,7200,32.6\n7200,5300,32.6\n5400,7300,32.6\n7300,5400,32.6\n5500,7400,32.6\n7400,5500,32.6\n5600,7500,32.5\n7500,5600,32.5\n5700,7600,32.5\n7600,5700,32.5\n5800,7700,32.4\n7700,5800,32.4\n5900,7800,32.4\n7800,5900,32.4\n6000,7900,32.4\n7900,6000,32.4\n2000,4000,34.1\n4000,2000,34.1\n2100,4100,34.1\n4100,2100,34.1\n2200,4200,34\n4200,2200,34\n2300,4300,34\n4300,2300,34\n2400,4400,34\n4400,2400,34\n2500,4500,33.9\n4500,2500,33.9\n2600,4600,33.9\n4600,2600,33.9\n2700,4700,33.8\n4700,2700,33.8\n2800,4800,33.8\n4800,2800,33.8\n2900,4900,33.8\n4900,2900,33.8\n3000,5000,33.7\n5000,3000,33.7\n3100,5100,33.7\n5100,3100,33.7\n3200,5200,33.6\n5200,3200,33.6\n3300,5300,33.6\n5300,3300,33.6\n3400,5400,33.6\n5400,3400,33.6\n3500,5500,33.5\n5500,3500,33.5\n3600,5600,33.5\n5600,3600,33.5\n3700,5700,33.4\n5700,3700,33.4\n3800,5800,33.4\n5800,3800,33.4\n3900,5900,33.4\n5900,3900,33.4\n4000,6000,33.3\n6000,4000,33.3\n4100,6100,33.3\n6100,4100,33.3\n4200,6200,33.2\n6200,4200,33.2\n4300,6300,33.2\n6300,4300,33.2\n4400,6400,33.2\n6400,4400,33.2\n4500,6500,33.1\n6500,4500,33.1\n4600,6600,33.1\n6600,4600,33.1\n4700,6700,33\n6700,4700,33\n4800,6800,33\n6800,4800,33\n4900,6900,33\n6900,4900,33\n5000,7000,32.9\n7000,5000,32.9\n5100,7100,32.9\n7100,5100,32.9\n5200,7200,32.8\n7200,5200,32.8\n5300,7300,32.8\n7300,5300,32.8\n5400,7400,32.8\n7400,5400,32.8\n5500,7500,32.7\n7500,5500,32.7\n5600,7600,32.7\n7600,5600,32.7\n5700,7700,32.6\n7700,5700,32.6\n5800,7800,32.6\n7800,5800,32.6\n5900,7900,32.6\n7900,5900,32.6\n2000,4100,34.3\n4100,2000,34.3\n2100,4200,34.3\n4200,2100,34.3\n2200,4300,34.3\n4300,2200,34.3\n2300,4400,34.2\n4400,2300,34.2\n2400,4500,34.2\n4500,2400,34.2\n2500,4600,34.1\n4600,2500,34.1\n2600,4700,34.1\n4700,2600,34.1\n2700,4800,34.1\n4800,2700,34.1\n2800,4900,34\n4900,2800,34\n2900,5000,34\n5000,2900,34\n3000,5100,33.9\n5100,3000,33.9\n3100,5200,33.9\n5200,3100,33.9\n3200,5300,33.8\n5300,3200,33.8\n3300,5400,33.8\n5400,3300,33.8\n3400,5500,33.8\n5500,3400,33.8\n3500,5600,33.7\n5600,3500,33.7\n3600,5700,33.7\n5700,3600,33.7\n3700,5800,33.6\n5800,3700,33.6\n3800,5900,33.6\n5900,3800,33.6\n3900,6000,33.6\n6000,3900,33.6\n4000,6100,33.5\n6100,4000,33.5\n4100,6200,33.5\n6200,4100,33.5\n4200,6300,33.4\n6300,4200,33.4\n4300,6400,33.4\n6400,4300,33.4\n4400,6500,33.3\n6500,4400,33.3\n4500,6600,33.3\n6600,4500,33.3\n4600,6700,33.3\n6700,4600,33.3\n4700,6800,33.2\n6800,4700,33.2\n4800,6900,33.2\n6900,4800,33.2\n4900,7000,33.1\n7000,4900,33.1\n5000,7100,33.1\n7100,5000,33.1\n5100,7200,33.1\n7200,5100,33.1\n5200,7300,33\n7300,5200,33\n5300,7400,33\n7400,5300,33\n5400,7500,32.9\n7500,5400,32.9\n5500,7600,32.9\n7600,5500,32.9\n5600,7700,32.9\n7700,5600,32.9\n5700,7800,32.8\n7800,5700,32.8\n5800,7900,32.8\n7900,5800,32.8\n2000,4200,34.5\n4200,2000,34.5\n2100,4300,34.5\n4300,2100,34.5\n2200,4400,34.5\n4400,2200,34.5\n2300,4500,34.4\n4500,2300,34.4\n2400,4600,34.4\n4600,2400,34.4\n2500,4700,34.3\n4700,2500,34.3\n2600,4800,34.3\n4800,2600,34.3\n2700,4900,34.2\n4900,2700,34.2\n2800,5000,34.2\n5000,2800,34.2\n2900,5100,34.2\n5100,2900,34.2\n3000,5200,34.1\n5200,3000,34.1\n3100,5300,34.1\n5300,3100,34.1\n3200,5400,34\n5400,3200,34\n3300,5500,34\n5500,3300,34\n3400,5600,33.9\n5600,3400,33.9\n3500,5700,33.9\n5700,3500,33.9\n3600,5800,33.9\n5800,3600,33.9\n3700,5900,33.8\n5900,3700,33.8\n3800,6000,33.8\n6000,3800,33.8\n3900,6100,33.7\n6100,3900,33.7\n4000,6200,33.7\n6200,4000,33.7\n4100,6300,33.7\n6300,4100,33.7\n4200,6400,33.6\n6400,4200,33.6\n4300,6500,33.6\n6500,4300,33.6\n4400,6600,33.5\n6600,4400,33.5\n4500,6700,33.5\n6700,4500,33.5\n4600,6800,33.4\n6800,4600,33.4\n4700,6900,33.4\n6900,4700,33.4\n4800,7000,33.4\n7000,4800,33.4\n4900,7100,33.3\n7100,4900,33.3\n5000,7200,33.3\n7200,5000,33.3\n5100,7300,33.2\n7300,5100,33.2\n5200,7400,33.2\n7400,5200,33.2\n5300,7500,33.1\n7500,5300,33.1\n5400,7600,33.1\n7600,5400,33.1\n5500,7700,33.1\n7700,5500,33.1\n5600,7800,33\n7800,5600,33\n5700,7900,33\n7900,5700,33\n2000,4300,34.7\n4300,2000,34.7\n2100,4400,34.7\n4400,2100,34.7\n2200,4500,34.6\n4500,2200,34.6\n2300,4600,34.6\n4600,2300,34.6\n2400,4700,34.6\n4700,2400,34.6\n2500,4800,34.5\n4800,2500,34.5\n2600,4900,34.5\n4900,2600,34.5\n2700,5000,34.4\n5000,2700,34.4\n2800,5100,34.4\n5100,2800,34.4\n2900,5200,34.3\n5200,2900,34.3\n3000,5300,34.3\n5300,3000,34.3\n3100,5400,34.3\n5400,3100,34.3\n3200,5500,34.2\n5500,3200,34.2\n3300,5600,34.2\n5600,3300,34.2\n3400,5700,34.1\n5700,3400,34.1\n3500,5800,34.1\n5800,3500,34.1\n3600,5900,34\n5900,3600,34\n3700,6000,34\n6000,3700,34\n3800,6100,33.9\n6100,3800,33.9\n3900,6200,33.9\n6200,3900,33.9\n4000,6300,33.9\n6300,4000,33.9\n4100,6400,33.8\n6400,4100,33.8\n4200,6500,33.8\n6500,4200,33.8\n4300,6600,33.7\n6600,4300,33.7\n4400,6700,33.7\n6700,4400,33.7\n4500,6800,33.6\n6800,4500,33.6\n4600,6900,33.6\n6900,4600,33.6\n4700,7000,33.6\n7000,4700,33.6\n4800,7100,33.5\n7100,4800,33.5\n4900,7200,33.5\n7200,4900,33.5\n5000,7300,33.4\n7300,5000,33.4\n5100,7400,33.4\n7400,5100,33.4\n5200,7500,33.3\n7500,5200,33.3\n5300,7600,33.3\n7600,5300,33.3\n5400,7700,33.3\n7700,5400,33.3\n5500,7800,33.2\n7800,5500,33.2\n5600,7900,33.2\n7900,5600,33.2\n2000,4400,34.9\n4400,2000,34.9\n2100,4500,34.9\n4500,2100,34.9\n2200,4600,34.8\n4600,2200,34.8\n2300,4700,34.8\n4700,2300,34.8\n2400,4800,34.7\n4800,2400,34.7\n2500,4900,34.7\n4900,2500,34.7\n2600,5000,34.7\n5000,2600,34.7\n2700,5100,34.6\n5100,2700,34.6\n2800,5200,34.6\n5200,2800,34.6\n2900,5300,34.5\n5300,2900,34.5\n3000,5400,34.5\n5400,3000,34.5\n3100,5500,34.4\n5500,3100,34.4\n3200,5600,34.4\n5600,3200,34.4\n3300,5700,34.3\n5700,3300,34.3\n3400,5800,34.3\n5800,3400,34.3\n3500,5900,34.3\n5900,3500,34.3\n3600,6000,34.2\n6000,3600,34.2\n3700,6100,34.2\n6100,3700,34.2\n3800,6200,34.1\n6200,3800,34.1\n3900,6300,34.1\n6300,3900,34.1\n4000,6400,34\n6400,4000,34\n4100,6500,34\n6500,4100,34\n4200,6600,33.9\n6600,4200,33.9\n4300,6700,33.9\n6700,4300,33.9\n4400,6800,33.9\n6800,4400,33.9\n4500,6900,33.8\n6900,4500,33.8\n4600,7000,33.8\n7000,4600,33.8\n4700,7100,33.7\n7100,4700,33.7\n4800,7200,33.7\n7200,4800,33.7\n4900,7300,33.6\n7300,4900,33.6\n5000,7400,33.6\n7400,5000,33.6\n5100,7500,33.5\n7500,5100,33.5\n5200,7600,33.5\n7600,5200,33.5\n5300,7700,33.5\n7700,5300,33.5\n5400,7800,33.4\n7800,5400,33.4\n5500,7900,33.4\n7900,5500,33.4\n2000,4500,35.1\n4500,2000,35.1\n2100,4600,35.1\n4600,2100,35.1\n2200,4700,35\n4700,2200,35\n2300,4800,35\n4800,2300,35\n2400,4900,34.9\n4900,2400,34.9\n2500,5000,34.9\n5000,2500,34.9\n2600,5100,34.8\n5100,2600,34.8\n2700,5200,34.8\n5200,2700,34.8\n2800,5300,34.7\n5300,2800,34.7\n2900,5400,34.7\n5400,2900,34.7\n3000,5500,34.7\n5500,3000,34.7\n3100,5600,34.6\n5600,3100,34.6\n3200,5700,34.6\n5700,3200,34.6\n3300,5800,34.5\n5800,3300,34.5\n3400,5900,34.5\n5900,3400,34.5\n3500,6000,34.4\n6000,3500,34.4\n3600,6100,34.4\n6100,3600,34.4\n3700,6200,34.3\n6200,3700,34.3\n3800,6300,34.3\n6300,3800,34.3\n3900,6400,34.2\n6400,3900,34.2\n4000,6500,34.2\n6500,4000,34.2\n4100,6600,34.2\n6600,4100,34.2\n4200,6700,34.1\n6700,4200,34.1\n4300,6800,34.1\n6800,4300,34.1\n4400,6900,34\n6900,4400,34\n4500,7000,34\n7000,4500,34\n4600,7100,33.9\n7100,4600,33.9\n4700,7200,33.9\n7200,4700,33.9\n4800,7300,33.8\n7300,4800,33.8\n4900,7400,33.8\n7400,4900,33.8\n5000,7500,33.7\n7500,5000,33.7\n5100,7600,33.7\n7600,5100,33.7\n5200,7700,33.7\n7700,5200,33.7\n5300,7800,33.6\n7800,5300,33.6\n5400,7900,33.6\n7900,5400,33.6\n2000,4600,35.3\n4600,2000,35.3\n2100,4700,35.2\n4700,2100,35.2\n2200,4800,35.2\n4800,2200,35.2\n2300,4900,35.2\n4900,2300,35.2\n2400,5000,35.1\n5000,2400,35.1\n2500,5100,35.1\n5100,2500,35.1\n2600,5200,35\n5200,2600,35\n2700,5300,35\n5300,2700,35\n2800,5400,34.9\n5400,2800,34.9\n2900,5500,34.9\n5500,2900,34.9\n3000,5600,34.8\n5600,3000,34.8\n3100,5700,34.8\n5700,3100,34.8\n3200,5800,34.7\n5800,3200,34.7\n3300,5900,34.7\n5900,3300,34.7\n3400,6000,34.6\n6000,3400,34.6\n3500,6100,34.6\n6100,3500,34.6\n3600,6200,34.5\n6200,3600,34.5\n3700,6300,34.5\n6300,3700,34.5\n3800,6400,34.5\n6400,3800,34.5\n3900,6500,34.4\n6500,3900,34.4\n4000,6600,34.4\n6600,4000,34.4\n4100,6700,34.3\n6700,4100,34.3\n4200,6800,34.3\n6800,4200,34.3\n4300,6900,34.2\n6900,4300,34.2\n4400,7000,34.2\n7000,4400,34.2\n4500,7100,34.1\n7100,4500,34.1\n4600,7200,34.1\n7200,4600,34.1\n4700,7300,34\n7300,4700,34\n4800,7400,34\n7400,4800,34\n4900,7500,33.9\n7500,4900,33.9\n5000,7600,33.9\n7600,5000,33.9\n5100,7700,33.8\n7700,5100,33.8\n5200,7800,33.8\n7800,5200,33.8\n5300,7900,33.8\n7900,5300,33.8\n2000,4700,35.5\n4700,2000,35.5\n2100,4800,35.4\n4800,2100,35.4\n2200,4900,35.4\n4900,2200,35.4\n2300,5000,35.3\n5000,2300,35.3\n2400,5100,35.3\n5100,2400,35.3\n2500,5200,35.2\n5200,2500,35.2\n2600,5300,35.2\n5300,2600,35.2\n2700,5400,35.1\n5400,2700,35.1\n2800,5500,35.1\n5500,2800,35.1\n2900,5600,35.1\n5600,2900,35.1\n3000,5700,35\n5700,3000,35\n3100,5800,35\n5800,3100,35\n3200,5900,34.9\n5900,3200,34.9\n3300,6000,34.9\n6000,3300,34.9\n3400,6100,34.8\n6100,3400,34.8\n3500,6200,34.8\n6200,3500,34.8\n3600,6300,34.7\n6300,3600,34.7\n3700,6400,34.7\n6400,3700,34.7\n3800,6500,34.6\n6500,3800,34.6\n3900,6600,34.6\n6600,3900,34.6\n4000,6700,34.5\n6700,4000,34.5\n4100,6800,34.5\n6800,4100,34.5\n4200,6900,34.4\n6900,4200,34.4\n4300,7000,34.4\n7000,4300,34.4\n4400,7100,34.3\n7100,4400,34.3\n4500,7200,34.3\n7200,4500,34.3\n4600,7300,34.2\n7300,4600,34.2\n4700,7400,34.2\n7400,4700,34.2\n4800,7500,34.1\n7500,4800,34.1\n4900,7600,34.1\n7600,4900,34.1\n5000,7700,34.1\n7700,5000,34.1\n5100,7800,34\n7800,5100,34\n5200,7900,34\n7900,5200,34\n2000,4800,35.6\n4800,2000,35.6\n2100,4900,35.6\n4900,2100,35.6\n2200,5000,35.6\n5000,2200,35.6\n2300,5100,35.5\n5100,2300,35.5\n2400,5200,35.5\n5200,2400,35.5\n2500,5300,35.4\n5300,2500,35.4\n2600,5400,35.4\n5400,2600,35.4\n2700,5500,35.3\n5500,2700,35.3\n2800,5600,35.3\n5600,2800,35.3\n2900,5700,35.2\n5700,2900,35.2\n3000,5800,35.2\n5800,3000,35.2\n3100,5900,35.1\n5900,3100,35.1\n3200,6000,35.1\n6000,3200,35.1\n3300,6100,35\n6100,3300,35\n3400,6200,35\n6200,3400,35\n3500,6300,34.9\n6300,3500,34.9\n3600,6400,34.9\n6400,3600,34.9\n3700,6500,34.8\n6500,3700,34.8\n3800,6600,34.8\n6600,3800,34.8\n3900,6700,34.7\n6700,3900,34.7\n4000,6800,34.7\n6800,4000,34.7\n4100,6900,34.6\n6900,4100,34.6\n4200,7000,34.6\n7000,4200,34.6\n4300,7100,34.5\n7100,4300,34.5\n4400,7200,34.5\n7200,4400,34.5\n4500,7300,34.4\n7300,4500,34.4\n4600,7400,34.4\n7400,4600,34.4\n4700,7500,34.3\n7500,4700,34.3\n4800,7600,34.3\n7600,4800,34.3\n4900,7700,34.2\n7700,4900,34.2\n5000,7800,34.2\n7800,5000,34.2\n5100,7900,34.1\n7900,5100,34.1\n2000,4900,35.8\n4900,2000,35.8\n2100,5000,35.8\n5000,2100,35.8\n2200,5100,35.7\n5100,2200,35.7\n2300,5200,35.7\n5200,2300,35.7\n2400,5300,35.6\n5300,2400,35.6\n2500,5400,35.6\n5400,2500,35.6\n2600,5500,35.5\n5500,2600,35.5\n2700,5600,35.5\n5600,2700,35.5\n2800,5700,35.4\n5700,2800,35.4\n2900,5800,35.4\n5800,2900,35.4\n3000,5900,35.3\n5900,3000,35.3\n3100,6000,35.3\n6000,3100,35.3\n3200,6100,35.2\n6100,3200,35.2\n3300,6200,35.2\n6200,3300,35.2\n3400,6300,35.1\n6300,3400,35.1\n3500,6400,35.1\n6400,3500,35.1\n3600,6500,35\n6500,3600,35\n3700,6600,35\n6600,3700,35\n3800,6700,34.9\n6700,3800,34.9\n3900,6800,34.9\n6800,3900,34.9\n4000,6900,34.8\n6900,4000,34.8\n4100,7000,34.8\n7000,4100,34.8\n4200,7100,34.7\n7100,4200,34.7\n4300,7200,34.7\n7200,4300,34.7\n4400,7300,34.6\n7300,4400,34.6\n4500,7400,34.6\n7400,4500,34.6\n4600,7500,34.5\n7500,4600,34.5\n4700,7600,34.5\n7600,4700,34.5\n4800,7700,34.4\n7700,4800,34.4\n4900,7800,34.4\n7800,4900,34.4\n5000,7900,34.3\n7900,5000,34.3\n2000,5000,36\n5000,2000,36\n2100,5100,35.9\n5100,2100,35.9\n2200,5200,35.9\n5200,2200,35.9\n2300,5300,35.8\n5300,2300,35.8\n2400,5400,35.8\n5400,2400,35.8\n2500,5500,35.7\n5500,2500,35.7\n2600,5600,35.7\n5600,2600,35.7\n2700,5700,35.6\n5700,2700,35.6\n2800,5800,35.6\n5800,2800,35.6\n2900,5900,35.5\n5900,2900,35.5\n3000,6000,35.5\n6000,3000,35.5\n3100,6100,35.4\n6100,3100,35.4\n3200,6200,35.4\n6200,3200,35.4\n3300,6300,35.3\n6300,3300,35.3\n3400,6400,35.3\n6400,3400,35.3\n3500,6500,35.2\n6500,3500,35.2\n3600,6600,35.2\n6600,3600,35.2\n3700,6700,35.1\n6700,3700,35.1\n3800,6800,35.1\n6800,3800,35.1\n3900,6900,35\n6900,3900,35\n4000,7000,35\n7000,4000,35\n4100,7100,34.9\n7100,4100,34.9\n4200,7200,34.9\n7200,4200,34.9\n4300,7300,34.8\n7300,4300,34.8\n4400,7400,34.8\n7400,4400,34.8\n4500,7500,34.7\n7500,4500,34.7\n4600,7600,34.7\n7600,4600,34.7\n4700,7700,34.6\n7700,4700,34.6\n4800,7800,34.6\n7800,4800,34.6\n4900,7900,34.5\n7900,4900,34.5\n2000,5100,36.2\n5100,2000,36.2\n2100,5200,36.1\n5200,2100,36.1\n2200,5300,36.1\n5300,2200,36.1\n2300,5400,36\n5400,2300,36\n2400,5500,36\n5500,2400,36\n2500,5600,35.9\n5600,2500,35.9\n2600,5700,35.9\n5700,2600,35.9\n2700,5800,35.8\n5800,2700,35.8\n2800,5900,35.8\n5900,2800,35.8\n2900,6000,35.7\n6000,2900,35.7\n3000,6100,35.7\n6100,3000,35.7\n3100,6200,35.6\n6200,3100,35.6\n3200,6300,35.6\n6300,3200,35.6\n3300,6400,35.5\n6400,3300,35.5\n3400,6500,35.5\n6500,3400,35.5\n3500,6600,35.4\n6600,3500,35.4\n3600,6700,35.3\n6700,3600,35.3\n3700,6800,35.3\n6800,3700,35.3\n3800,6900,35.2\n6900,3800,35.2\n3900,7000,35.2\n7000,3900,35.2\n4000,7100,35.1\n7100,4000,35.1\n4100,7200,35.1\n7200,4100,35.1\n4200,7300,35\n7300,4200,35\n4300,7400,35\n7400,4300,35\n4400,7500,34.9\n7500,4400,34.9\n4500,7600,34.9\n7600,4500,34.9\n4600,7700,34.8\n7700,4600,34.8\n4700,7800,34.8\n7800,4700,34.8\n4800,7900,34.7\n7900,4800,34.7\n2000,5200,36.3\n5200,2000,36.3\n2100,5300,36.3\n5300,2100,36.3\n2200,5400,36.2\n5400,2200,36.2\n2300,5500,36.2\n5500,2300,36.2\n2400,5600,36.1\n5600,2400,36.1\n2500,5700,36.1\n5700,2500,36.1\n2600,5800,36\n5800,2600,36\n2700,5900,36\n5900,2700,36\n2800,6000,35.9\n6000,2800,35.9\n2900,6100,35.9\n6100,2900,35.9\n3000,6200,35.8\n6200,3000,35.8\n3100,6300,35.8\n6300,3100,35.8\n3200,6400,35.7\n6400,3200,35.7\n3300,6500,35.7\n6500,3300,35.7\n3400,6600,35.6\n6600,3400,35.6\n3500,6700,35.6\n6700,3500,35.6\n3600,6800,35.5\n6800,3600,35.5\n3700,6900,35.5\n6900,3700,35.5\n3800,7000,35.4\n7000,3800,35.4\n3900,7100,35.3\n7100,3900,35.3\n4000,7200,35.3\n7200,4000,35.3\n4100,7300,35.2\n7300,4100,35.2\n4200,7400,35.2\n7400,4200,35.2\n4300,7500,35.1\n7500,4300,35.1\n4400,7600,35.1\n7600,4400,35.1\n4500,7700,35\n7700,4500,35\n4600,7800,35\n7800,4600,35\n4700,7900,34.9\n7900,4700,34.9\n2000,5300,36.5\n5300,2000,36.5\n2100,5400,36.5\n5400,2100,36.5\n2200,5500,36.4\n5500,2200,36.4\n2300,5600,36.4\n5600,2300,36.4\n2400,5700,36.3\n5700,2400,36.3\n2500,5800,36.2\n5800,2500,36.2\n2600,5900,36.2\n5900,2600,36.2\n2700,6000,36.1\n6000,2700,36.1\n2800,6100,36.1\n6100,2800,36.1\n2900,6200,36\n6200,2900,36\n3000,6300,36\n6300,3000,36\n3100,6400,35.9\n6400,3100,35.9\n3200,6500,35.9\n6500,3200,35.9\n3300,6600,35.8\n6600,3300,35.8\n3400,6700,35.8\n6700,3400,35.8\n3500,6800,35.7\n6800,3500,35.7\n3600,6900,35.7\n6900,3600,35.7\n3700,7000,35.6\n7000,3700,35.6\n3800,7100,35.6\n7100,3800,35.6\n3900,7200,35.5\n7200,3900,35.5\n4000,7300,35.4\n7300,4000,35.4\n4100,7400,35.4\n7400,4100,35.4\n4200,7500,35.3\n7500,4200,35.3\n4300,7600,35.3\n7600,4300,35.3\n4400,7700,35.2\n7700,4400,35.2\n4500,7800,35.2\n7800,4500,35.2\n4600,7900,35.1\n7900,4600,35.1\n2000,5400,36.7\n5400,2000,36.7\n2100,5500,36.6\n5500,2100,36.6\n2200,5600,36.6\n5600,2200,36.6\n2300,5700,36.5\n5700,2300,36.5\n2400,5800,36.5\n5800,2400,36.5\n2500,5900,36.4\n5900,2500,36.4\n2600,6000,36.3\n6000,2600,36.3\n2700,6100,36.3\n6100,2700,36.3\n2800,6200,36.2\n6200,2800,36.2\n2900,6300,36.2\n6300,2900,36.2\n3000,6400,36.1\n6400,3000,36.1\n3100,6500,36.1\n6500,3100,36.1\n3200,6600,36\n6600,3200,36\n3300,6700,36\n6700,3300,36\n3400,6800,35.9\n6800,3400,35.9\n3500,6900,35.9\n6900,3500,35.9\n3600,7000,35.8\n7000,3600,35.8\n3700,7100,35.8\n7100,3700,35.8\n3800,7200,35.7\n7200,3800,35.7\n3900,7300,35.6\n7300,3900,35.6\n4000,7400,35.6\n7400,4000,35.6\n4100,7500,35.5\n7500,4100,35.5\n4200,7600,35.5\n7600,4200,35.5\n4300,7700,35.4\n7700,4300,35.4\n4400,7800,35.4\n7800,4400,35.4\n4500,7900,35.3\n7900,4500,35.3\n2000,5500,36.8\n5500,2000,36.8\n2100,5600,36.8\n5600,2100,36.8\n2200,5700,36.7\n5700,2200,36.7\n2300,5800,36.7\n5800,2300,36.7\n2400,5900,36.6\n5900,2400,36.6\n2500,6000,36.6\n6000,2500,36.6\n2600,6100,36.5\n6100,2600,36.5\n2700,6200,36.4\n6200,2700,36.4\n2800,6300,36.4\n6300,2800,36.4\n2900,6400,36.3\n6400,2900,36.3\n3000,6500,36.3\n6500,3000,36.3\n3100,6600,36.2\n6600,3100,36.2\n3200,6700,36.2\n6700,3200,36.2\n3300,6800,36.1\n6800,3300,36.1\n3400,6900,36.1\n6900,3400,36.1\n3500,7000,36\n7000,3500,36\n3600,7100,36\n7100,3600,36\n3700,7200,35.9\n7200,3700,35.9\n3800,7300,35.8\n7300,3800,35.8\n3900,7400,35.8\n7400,3900,35.8\n4000,7500,35.7\n7500,4000,35.7\n4100,7600,35.7\n7600,4100,35.7\n4200,7700,35.6\n7700,4200,35.6\n4300,7800,35.6\n7800,4300,35.6\n4400,7900,35.5\n7900,4400,35.5\n2000,5600,37\n5600,2000,37\n2100,5700,36.9\n5700,2100,36.9\n2200,5800,36.9\n5800,2200,36.9\n2300,5900,36.8\n5900,2300,36.8\n2400,6000,36.8\n6000,2400,36.8\n2500,6100,36.7\n6100,2500,36.7\n2600,6200,36.7\n6200,2600,36.7\n2700,6300,36.6\n6300,2700,36.6\n2800,6400,36.5\n6400,2800,36.5\n2900,6500,36.5\n6500,2900,36.5\n3000,6600,36.4\n6600,3000,36.4\n3100,6700,36.4\n6700,3100,36.4\n3200,6800,36.3\n6800,3200,36.3\n3300,6900,36.3\n6900,3300,36.3\n3400,7000,36.2\n7000,3400,36.2\n3500,7100,36.2\n7100,3500,36.2\n3600,7200,36.1\n7200,3600,36.1\n3700,7300,36\n7300,3700,36\n3800,7400,36\n7400,3800,36\n3900,7500,35.9\n7500,3900,35.9\n4000,7600,35.9\n7600,4000,35.9\n4100,7700,35.8\n7700,4100,35.8\n4200,7800,35.8\n7800,4200,35.8\n4300,7900,35.7\n7900,4300,35.7\n2000,5700,37.1\n5700,2000,37.1\n2100,5800,37.1\n5800,2100,37.1\n2200,5900,37\n5900,2200,37\n2300,6000,37\n6000,2300,37\n2400,6100,36.9\n6100,2400,36.9\n2500,6200,36.9\n6200,2500,36.9\n2600,6300,36.8\n6300,2600,36.8\n2700,6400,36.8\n6400,2700,36.8\n2800,6500,36.7\n6500,2800,36.7\n2900,6600,36.6\n6600,2900,36.6\n3000,6700,36.6\n6700,3000,36.6\n3100,6800,36.5\n6800,3100,36.5\n3200,6900,36.5\n6900,3200,36.5\n3300,7000,36.4\n7000,3300,36.4\n3400,7100,36.4\n7100,3400,36.4\n3500,7200,36.3\n7200,3500,36.3\n3600,7300,36.2\n7300,3600,36.2\n3700,7400,36.2\n7400,3700,36.2\n3800,7500,36.1\n7500,3800,36.1\n3900,7600,36.1\n7600,3900,36.1\n4000,7700,36\n7700,4000,36\n4100,7800,36\n7800,4100,36\n4200,7900,35.9\n7900,4200,35.9\n2000,5800,37.3\n5800,2000,37.3\n2100,5900,37.2\n5900,2100,37.2\n2200,6000,37.2\n6000,2200,37.2\n2300,6100,37.1\n6100,2300,37.1\n2400,6200,37.1\n6200,2400,37.1\n2500,6300,37\n6300,2500,37\n2600,6400,37\n6400,2600,37\n2700,6500,36.9\n6500,2700,36.9\n2800,6600,36.8\n6600,2800,36.8\n2900,6700,36.8\n6700,2900,36.8\n3000,6800,36.7\n6800,3000,36.7\n3100,6900,36.7\n6900,3100,36.7\n3200,7000,36.6\n7000,3200,36.6\n3300,7100,36.6\n7100,3300,36.6\n3400,7200,36.5\n7200,3400,36.5\n3500,7300,36.4\n7300,3500,36.4\n3600,7400,36.4\n7400,3600,36.4\n3700,7500,36.3\n7500,3700,36.3\n3800,7600,36.3\n7600,3800,36.3\n3900,7700,36.2\n7700,3900,36.2\n4000,7800,36.2\n7800,4000,36.2\n4100,7900,36.1\n7900,4100,36.1\n2000,5900,37.5\n5900,2000,37.5\n2100,6000,37.4\n6000,2100,37.4\n2200,6100,37.3\n6100,2200,37.3\n2300,6200,37.3\n6200,2300,37.3\n2400,6300,37.2\n6300,2400,37.2\n2500,6400,37.2\n6400,2500,37.2\n2600,6500,37.1\n6500,2600,37.1\n2700,6600,37.1\n6600,2700,37.1\n2800,6700,37\n6700,2800,37\n2900,6800,36.9\n6800,2900,36.9\n3000,6900,36.9\n6900,3000,36.9\n3100,7000,36.8\n7000,3100,36.8\n3200,7100,36.8\n7100,3200,36.8\n3300,7200,36.7\n7200,3300,36.7\n3400,7300,36.6\n7300,3400,36.6\n3500,7400,36.6\n7400,3500,36.6\n3600,7500,36.5\n7500,3600,36.5\n3700,7600,36.5\n7600,3700,36.5\n3800,7700,36.4\n7700,3800,36.4\n3900,7800,36.4\n7800,3900,36.4\n4000,7900,36.3\n7900,4000,36.3\n2000,6000,37.6\n6000,2000,37.6\n2100,6100,37.6\n6100,2100,37.6\n2200,6200,37.5\n6200,2200,37.5\n2300,6300,37.4\n6300,2300,37.4\n2400,6400,37.4\n6400,2400,37.4\n2500,6500,37.3\n6500,2500,37.3\n2600,6600,37.3\n6600,2600,37.3\n2700,6700,37.2\n6700,2700,37.2\n2800,6800,37.1\n6800,2800,37.1\n2900,6900,37.1\n6900,2900,37.1\n3000,7000,37\n7000,3000,37\n3100,7100,37\n7100,3100,37\n3200,7200,36.9\n7200,3200,36.9\n3300,7300,36.8\n7300,3300,36.8\n3400,7400,36.8\n7400,3400,36.8\n3500,7500,36.7\n7500,3500,36.7\n3600,7600,36.7\n7600,3600,36.7\n3700,7700,36.6\n7700,3700,36.6\n3800,7800,36.5\n7800,3800,36.5\n3900,7900,36.5\n7900,3900,36.5\n2000,6100,37.8\n6100,2000,37.8\n2100,6200,37.7\n6200,2100,37.7\n2200,6300,37.7\n6300,2200,37.7\n2300,6400,37.6\n6400,2300,37.6\n2400,6500,37.5\n6500,2400,37.5\n2500,6600,37.5\n6600,2500,37.5\n2600,6700,37.4\n6700,2600,37.4\n2700,6800,37.3\n6800,2700,37.3\n2800,6900,37.3\n6900,2800,37.3\n2900,7000,37.2\n7000,2900,37.2\n3000,7100,37.2\n7100,3000,37.2\n3100,7200,37.1\n7200,3100,37.1\n3200,7300,37\n7300,3200,37\n3300,7400,37\n7400,3300,37\n3400,7500,36.9\n7500,3400,36.9\n3500,7600,36.9\n7600,3500,36.9\n3600,7700,36.8\n7700,3600,36.8\n3700,7800,36.7\n7800,3700,36.7\n3800,7900,36.7\n7900,3800,36.7\n2000,6200,37.9\n6200,2000,37.9\n2100,6300,37.8\n6300,2100,37.8\n2200,6400,37.8\n6400,2200,37.8\n2300,6500,37.7\n6500,2300,37.7\n2400,6600,37.7\n6600,2400,37.7\n2500,6700,37.6\n6700,2500,37.6\n2600,6800,37.5\n6800,2600,37.5\n2700,6900,37.5\n6900,2700,37.5\n2800,7000,37.4\n7000,2800,37.4\n2900,7100,37.4\n7100,2900,37.4\n3000,7200,37.3\n7200,3000,37.3\n3100,7300,37.2\n7300,3100,37.2\n3200,7400,37.2\n7400,3200,37.2\n3300,7500,37.1\n7500,3300,37.1\n3400,7600,37.1\n7600,3400,37.1\n3500,7700,37\n7700,3500,37\n3600,7800,36.9\n7800,3600,36.9\n3700,7900,36.9\n7900,3700,36.9\n2000,6300,38\n6300,2000,38\n2100,6400,38\n6400,2100,38\n2200,6500,37.9\n6500,2200,37.9\n2300,6600,37.9\n6600,2300,37.9\n2400,6700,37.8\n6700,2400,37.8\n2500,6800,37.7\n6800,2500,37.7\n2600,6900,37.7\n6900,2600,37.7\n2700,7000,37.6\n7000,2700,37.6\n2800,7100,37.6\n7100,2800,37.6\n2900,7200,37.5\n7200,2900,37.5\n3000,7300,37.4\n7300,3000,37.4\n3100,7400,37.4\n7400,3100,37.4\n3200,7500,37.3\n7500,3200,37.3\n3300,7600,37.2\n7600,3300,37.2\n3400,7700,37.2\n7700,3400,37.2\n3500,7800,37.1\n7800,3500,37.1\n3600,7900,37.1\n7900,3600,37.1\n2000,6400,38.2\n6400,2000,38.2\n2100,6500,38.1\n6500,2100,38.1\n2200,6600,38.1\n6600,2200,38.1\n2300,6700,38\n6700,2300,38\n2400,6800,38\n6800,2400,38\n2500,6900,37.9\n6900,2500,37.9\n2600,7000,37.8\n7000,2600,37.8\n2700,7100,37.8\n7100,2700,37.8\n2800,7200,37.7\n7200,2800,37.7\n2900,7300,37.6\n7300,2900,37.6\n3000,7400,37.6\n7400,3000,37.6\n3100,7500,37.5\n7500,3100,37.5\n3200,7600,37.5\n7600,3200,37.5\n3300,7700,37.4\n7700,3300,37.4\n3400,7800,37.3\n7800,3400,37.3\n3500,7900,37.3\n7900,3500,37.3\n2000,6500,38.3\n6500,2000,38.3\n2100,6600,38.3\n6600,2100,38.3\n2200,6700,38.2\n6700,2200,38.2\n2300,6800,38.2\n6800,2300,38.2\n2400,6900,38.1\n6900,2400,38.1\n2500,7000,38\n7000,2500,38\n2600,7100,38\n7100,2600,38\n2700,7200,37.9\n7200,2700,37.9\n2800,7300,37.8\n7300,2800,37.8\n2900,7400,37.8\n7400,2900,37.8\n3000,7500,37.7\n7500,3000,37.7\n3100,7600,37.7\n7600,3100,37.7\n3200,7700,37.6\n7700,3200,37.6\n3300,7800,37.5\n7800,3300,37.5\n3400,7900,37.5\n7900,3400,37.5\n2000,6600,38.5\n6600,2000,38.5\n2100,6700,38.4\n6700,2100,38.4\n2200,6800,38.4\n6800,2200,38.4\n2300,6900,38.3\n6900,2300,38.3\n2400,7000,38.2\n7000,2400,38.2\n2500,7100,38.2\n7100,2500,38.2\n2600,7200,38.1\n7200,2600,38.1\n2700,7300,38\n7300,2700,38\n2800,7400,38\n7400,2800,38\n2900,7500,37.9\n7500,2900,37.9\n3000,7600,37.9\n7600,3000,37.9\n3100,7700,37.8\n7700,3100,37.8\n3200,7800,37.7\n7800,3200,37.7\n3300,7900,37.7\n7900,3300,37.7\n2000,6700,38.6\n6700,2000,38.6\n2100,6800,38.6\n6800,2100,38.6\n2200,6900,38.5\n6900,2200,38.5\n2300,7000,38.4\n7000,2300,38.4\n2400,7100,38.4\n7100,2400,38.4\n2500,7200,38.3\n7200,2500,38.3\n2600,7300,38.2\n7300,2600,38.2\n2700,7400,38.2\n7400,2700,38.2\n2800,7500,38.1\n7500,2800,38.1\n2900,7600,38\n7600,2900,38\n3000,7700,38\n7700,3000,38\n3100,7800,37.9\n7800,3100,37.9\n3200,7900,37.9\n7900,3200,37.9\n2000,6800,38.8\n6800,2000,38.8\n2100,6900,38.7\n6900,2100,38.7\n2200,7000,38.6\n7000,2200,38.6\n2300,7100,38.6\n7100,2300,38.6\n2400,7200,38.5\n7200,2400,38.5\n2500,7300,38.5\n7300,2500,38.5\n2600,7400,38.4\n7400,2600,38.4\n2700,7500,38.3\n7500,2700,38.3\n2800,7600,38.3\n7600,2800,38.3\n2900,7700,38.2\n7700,2900,38.2\n3000,7800,38.1\n7800,3000,38.1\n3100,7900,38.1\n7900,3100,38.1\n2000,6900,38.9\n6900,2000,38.9\n2100,7000,38.9\n7000,2100,38.9\n2200,7100,38.8\n7100,2200,38.8\n2300,7200,38.7\n7200,2300,38.7\n2400,7300,38.7\n7300,2400,38.7\n2500,7400,38.6\n7400,2500,38.6\n2600,7500,38.5\n7500,2600,38.5\n2700,7600,38.5\n7600,2700,38.5\n2800,7700,38.4\n7700,2800,38.4\n2900,7800,38.3\n7800,2900,38.3\n3000,7900,38.3\n7900,3000,38.3\n2000,7000,39\n7000,2000,39\n2100,7100,39\n7100,2100,39\n2200,7200,38.9\n7200,2200,38.9\n2300,7300,38.8\n7300,2300,38.8\n2400,7400,38.8\n7400,2400,38.8\n2500,7500,38.7\n7500,2500,38.7\n2600,7600,38.6\n7600,2600,38.6\n2700,7700,38.6\n7700,2700,38.6\n2800,7800,38.5\n7800,2800,38.5\n2900,7900,38.4\n7900,2900,38.4\n2000,7100,39.2\n7100,2000,39.2\n2100,7200,39.1\n7200,2100,39.1\n2200,7300,39.1\n7300,2200,39.1\n2300,7400,39\n7400,2300,39\n2400,7500,38.9\n7500,2400,38.9\n2500,7600,38.9\n7600,2500,38.9\n2600,7700,38.8\n7700,2600,38.8\n2700,7800,38.7\n7800,2700,38.7\n2800,7900,38.6\n7900,2800,38.6\n2000,7200,39.3\n7200,2000,39.3\n2100,7300,39.3\n7300,2100,39.3\n2200,7400,39.2\n7400,2200,39.2\n2300,7500,39.1\n7500,2300,39.1\n2400,7600,39.1\n7600,2400,39.1\n2500,7700,39\n7700,2500,39\n2600,7800,38.9\n7800,2600,38.9\n2700,7900,38.8\n7900,2700,38.8\n2000,7300,39.4\n7300,2000,39.4\n2100,7400,39.4\n7400,2100,39.4\n2200,7500,39.3\n7500,2200,39.3\n2300,7600,39.2\n7600,2300,39.2\n2400,7700,39.2\n7700,2400,39.2\n2500,7800,39.1\n7800,2500,39.1\n2600,7900,39\n7900,2600,39\n2000,7400,39.6\n7400,2000,39.6\n2100,7500,39.5\n7500,2100,39.5\n2200,7600,39.4\n7600,2200,39.4\n2300,7700,39.4\n7700,2300,39.4\n2400,7800,39.3\n7800,2400,39.3\n2500,7900,39.2\n7900,2500,39.2\n2000,7500,39.7\n7500,2000,39.7\n2100,7600,39.6\n7600,2100,39.6\n2200,7700,39.6\n7700,2200,39.6\n2300,7800,39.5\n7800,2300,39.5\n2400,7900,39.4\n7900,2400,39.4\n2000,7600,39.8\n7600,2000,39.8\n2100,7700,39.8\n7700,2100,39.8\n2200,7800,39.7\n7800,2200,39.7\n2300,7900,39.6\n7900,2300,39.6\n2000,7700,40\n7700,2000,40\n2100,7800,39.9\n7800,2100,39.9\n2200,7900,39.8\n7900,2200,39.8\n2000,7800,40.2\n7800,2000,40.2\n2100,7900,40.1\n7900,2100,40.1\n2000,7900,40.5\n7900,2000,40.5",
        "format": {"type": "csv", "parse": {"x": "number", "y": "number", "d": "number"}}
      },
      "mark": {"type": "rect", "strokeWidth": 0.6},
      "encoding": {
        "x": {"field": "x", "type": "ordinal", "scale": {"paddingInner": 0, "paddingOuter": 0},
              "axis": {"values": [2000, 3000, 4000, 5000, 6000, 7000], "title": null, "labelAngle": 0, "labelFontSize": 13, "tickSize": 3.5, "labelPadding": 1}},
        "y": {"field": "y", "type": "ordinal", "scale": {"paddingInner": 0, "paddingOuter": 0, "range": [4, 270]},
              "axis": {"values": [2000, 3000, 4000, 5000, 6000, 7000], "title": null, "labelAngle": -90, "labelFontSize": 13, "tickSize": 3.5, "labelPadding": 1, "labelOffset": 11}},
        "color": {"field": "d", "type": "quantitative",
                  "scale": {"domain": [26.78, 28.74, 30.71, 32.67, 34.63, 36.59, 38.56, 40.52], "range": ["#03051a", "#35193e", "#701f57", "#ad1759", "#e13342", "#f37651", "#f6b48f", "#faebdd"]},
                  "legend": {"orient": "none", "legendX": 278, "legendY": 4, "direction": "vertical", "gradientLength": 266, "gradientThickness": 14, "gradientStrokeWidth": 0,
                             "values": [27.5, 30, 32.5, 35, 37.5, 40], "format": ".1f", "labelFontSize": 13, "labelOffset": 4, "title": null}},
        "stroke": {"field": "d", "type": "quantitative",
                   "scale": {"domain": [26.78, 28.74, 30.71, 32.67, 34.63, 36.59, 38.56, 40.52], "range": ["#03051a", "#35193e", "#701f57", "#ad1759", "#e13342", "#f37651", "#f6b48f", "#faebdd"]},
                   "legend": null}
      }
    }
  ]
}
